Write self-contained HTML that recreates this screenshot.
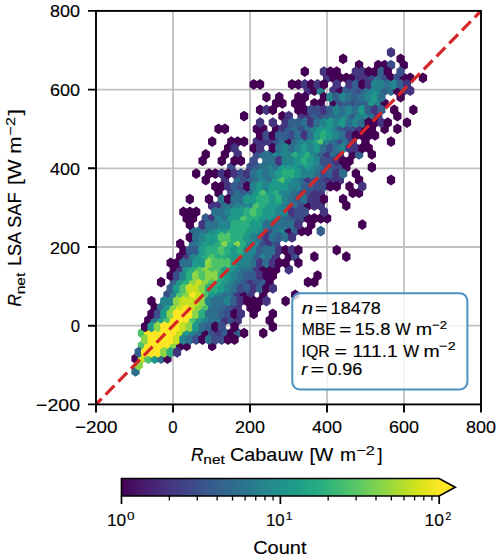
<!DOCTYPE html>
<html><head><meta charset="utf-8">
<style>
html,body{margin:0;padding:0;background:#fff;}
body{width:500px;height:560px;overflow:hidden;}
svg{display:block;}
text{font-family:"Liberation Sans",sans-serif;fill:#000;stroke:#000;stroke-width:0.15px;}
</style></head>
<body>
<svg width="500" height="560" viewBox="0 0 500 560">
<defs>
<linearGradient id="vir" x1="0" y1="0" x2="1" y2="0">
<stop offset="0.0000" stop-color="#440154"/>
<stop offset="0.0625" stop-color="#48186a"/>
<stop offset="0.1250" stop-color="#472d7b"/>
<stop offset="0.1875" stop-color="#424086"/>
<stop offset="0.2500" stop-color="#3b528b"/>
<stop offset="0.3125" stop-color="#33638d"/>
<stop offset="0.3750" stop-color="#2c728e"/>
<stop offset="0.4375" stop-color="#26828e"/>
<stop offset="0.5000" stop-color="#21918c"/>
<stop offset="0.5625" stop-color="#1fa088"/>
<stop offset="0.6250" stop-color="#28ae80"/>
<stop offset="0.6875" stop-color="#3fbc73"/>
<stop offset="0.7500" stop-color="#5ec962"/>
<stop offset="0.8125" stop-color="#84d44b"/>
<stop offset="0.8750" stop-color="#addc30"/>
<stop offset="0.9375" stop-color="#d8e219"/>
<stop offset="1.0000" stop-color="#fde725"/>
</linearGradient>
<clipPath id="ax"><rect x="96" y="10.9" width="385" height="393.5"/></clipPath>
</defs>

<!-- grid -->
<path d="M173 10.9V404.4M250 10.9V404.4M327 10.9V404.4M404 10.9V404.4M96 89.6H481M96 168.3H481M96 247H481M96 325.7H481" stroke="#c0c0c0" stroke-width="1.8" fill="none"/>

<!-- hexbin -->
<g clip-path="url(#ax)">
<g stroke-width="1.90" stroke-linejoin="miter">
<polygon points="394.19,50.27 394.19,54.53 391.00,56.65 387.81,54.53 387.81,50.27 391.00,48.15" fill="#45347f" stroke="#45347f"/>
<polygon points="362.26,63.03 362.26,67.29 359.07,69.41 355.87,67.29 355.87,63.03 359.07,60.91" fill="#440154" stroke="#440154"/>
<polygon points="381.42,63.03 381.42,67.29 378.23,69.41 375.03,67.29 375.03,63.03 378.23,60.91" fill="#440154" stroke="#440154"/>
<polygon points="387.81,63.03 387.81,67.29 384.61,69.41 381.42,67.29 381.42,63.03 384.61,60.91" fill="#440154" stroke="#440154"/>
<polygon points="394.19,63.03 394.19,67.29 391.00,69.41 387.81,67.29 387.81,63.03 391.00,60.91" fill="#3c4e8a" stroke="#3c4e8a"/>
<polygon points="406.97,63.03 406.97,67.29 403.77,69.41 400.58,67.29 400.58,63.03 403.77,60.91" fill="#440154" stroke="#440154"/>
<polygon points="330.32,75.79 330.32,80.05 327.13,82.17 323.94,80.05 323.94,75.79 327.13,73.67" fill="#45347f" stroke="#45347f"/>
<polygon points="336.71,75.79 336.71,80.05 333.52,82.17 330.32,80.05 330.32,75.79 333.52,73.67" fill="#440154" stroke="#440154"/>
<polygon points="343.10,75.79 343.10,80.05 339.90,82.17 336.71,80.05 336.71,75.79 339.90,73.67" fill="#440154" stroke="#440154"/>
<polygon points="349.49,75.79 349.49,80.05 346.29,82.17 343.10,80.05 343.10,75.79 346.29,73.67" fill="#440154" stroke="#440154"/>
<polygon points="355.87,75.79 355.87,80.05 352.68,82.17 349.49,80.05 349.49,75.79 352.68,73.67" fill="#440154" stroke="#440154"/>
<polygon points="362.26,75.79 362.26,80.05 359.07,82.17 355.87,80.05 355.87,75.79 359.07,73.67" fill="#45347f" stroke="#45347f"/>
<polygon points="368.65,75.79 368.65,80.05 365.45,82.17 362.26,80.05 362.26,75.79 365.45,73.67" fill="#45347f" stroke="#45347f"/>
<polygon points="375.03,75.79 375.03,80.05 371.84,82.17 368.65,80.05 368.65,75.79 371.84,73.67" fill="#3c4e8a" stroke="#3c4e8a"/>
<polygon points="381.42,75.79 381.42,80.05 378.23,82.17 375.03,80.05 375.03,75.79 378.23,73.67" fill="#2c708e" stroke="#2c708e"/>
<polygon points="387.81,75.79 387.81,80.05 384.61,82.17 381.42,80.05 381.42,75.79 384.61,73.67" fill="#3c4e8a" stroke="#3c4e8a"/>
<polygon points="394.19,75.79 394.19,80.05 391.00,82.17 387.81,80.05 387.81,75.79 391.00,73.67" fill="#440154" stroke="#440154"/>
<polygon points="400.58,75.79 400.58,80.05 397.39,82.17 394.19,80.05 394.19,75.79 397.39,73.67" fill="#3c4e8a" stroke="#3c4e8a"/>
<polygon points="406.97,75.79 406.97,80.05 403.77,82.17 400.58,80.05 400.58,75.79 403.77,73.67" fill="#440154" stroke="#440154"/>
<polygon points="413.36,75.79 413.36,80.05 410.16,82.17 406.97,80.05 406.97,75.79 410.16,73.67" fill="#440154" stroke="#440154"/>
<polygon points="426.13,75.79 426.13,80.05 422.94,82.17 419.74,80.05 419.74,75.79 422.94,73.67" fill="#440154" stroke="#440154"/>
<polygon points="311.16,88.55 311.16,92.81 307.97,94.93 304.78,92.81 304.78,88.55 307.97,86.43" fill="#45347f" stroke="#45347f"/>
<polygon points="317.55,88.55 317.55,92.81 314.36,94.93 311.16,92.81 311.16,88.55 314.36,86.43" fill="#440154" stroke="#440154"/>
<polygon points="323.94,88.55 323.94,92.81 320.74,94.93 317.55,92.81 317.55,88.55 320.74,86.43" fill="#24848d" stroke="#24848d"/>
<polygon points="336.71,88.55 336.71,92.81 333.52,94.93 330.32,92.81 330.32,88.55 333.52,86.43" fill="#45347f" stroke="#45347f"/>
<polygon points="343.10,88.55 343.10,92.81 339.90,94.93 336.71,92.81 336.71,88.55 339.90,86.43" fill="#440154" stroke="#440154"/>
<polygon points="349.49,88.55 349.49,92.81 346.29,94.93 343.10,92.81 343.10,88.55 346.29,86.43" fill="#345f8d" stroke="#345f8d"/>
<polygon points="355.87,88.55 355.87,92.81 352.68,94.93 349.49,92.81 349.49,88.55 352.68,86.43" fill="#345f8d" stroke="#345f8d"/>
<polygon points="362.26,88.55 362.26,92.81 359.07,94.93 355.87,92.81 355.87,88.55 359.07,86.43" fill="#3c4e8a" stroke="#3c4e8a"/>
<polygon points="368.65,88.55 368.65,92.81 365.45,94.93 362.26,92.81 362.26,88.55 365.45,86.43" fill="#2c708e" stroke="#2c708e"/>
<polygon points="375.03,88.55 375.03,92.81 371.84,94.93 368.65,92.81 368.65,88.55 371.84,86.43" fill="#24848d" stroke="#24848d"/>
<polygon points="381.42,88.55 381.42,92.81 378.23,94.93 375.03,92.81 375.03,88.55 378.23,86.43" fill="#24848d" stroke="#24848d"/>
<polygon points="387.81,88.55 387.81,92.81 384.61,94.93 381.42,92.81 381.42,88.55 384.61,86.43" fill="#345f8d" stroke="#345f8d"/>
<polygon points="394.19,88.55 394.19,92.81 391.00,94.93 387.81,92.81 387.81,88.55 391.00,86.43" fill="#2c708e" stroke="#2c708e"/>
<polygon points="400.58,88.55 400.58,92.81 397.39,94.93 394.19,92.81 394.19,88.55 397.39,86.43" fill="#440154" stroke="#440154"/>
<polygon points="406.97,88.55 406.97,92.81 403.77,94.93 400.58,92.81 400.58,88.55 403.77,86.43" fill="#45347f" stroke="#45347f"/>
<polygon points="413.36,88.55 413.36,92.81 410.16,94.93 406.97,92.81 406.97,88.55 410.16,86.43" fill="#45347f" stroke="#45347f"/>
<polygon points="279.23,101.31 279.23,105.57 276.03,107.69 272.84,105.57 272.84,101.31 276.03,99.19" fill="#440154" stroke="#440154"/>
<polygon points="285.62,101.31 285.62,105.57 282.42,107.69 279.23,105.57 279.23,101.31 282.42,99.19" fill="#440154" stroke="#440154"/>
<polygon points="298.39,101.31 298.39,105.57 295.20,107.69 292.00,105.57 292.00,101.31 295.20,99.19" fill="#440154" stroke="#440154"/>
<polygon points="304.78,101.31 304.78,105.57 301.58,107.69 298.39,105.57 298.39,101.31 301.58,99.19" fill="#440154" stroke="#440154"/>
<polygon points="317.55,101.31 317.55,105.57 314.36,107.69 311.16,105.57 311.16,101.31 314.36,99.19" fill="#440154" stroke="#440154"/>
<polygon points="323.94,101.31 323.94,105.57 320.74,107.69 317.55,105.57 317.55,101.31 320.74,99.19" fill="#440154" stroke="#440154"/>
<polygon points="336.71,101.31 336.71,105.57 333.52,107.69 330.32,105.57 330.32,101.31 333.52,99.19" fill="#440154" stroke="#440154"/>
<polygon points="343.10,101.31 343.10,105.57 339.90,107.69 336.71,105.57 336.71,101.31 339.90,99.19" fill="#3c4e8a" stroke="#3c4e8a"/>
<polygon points="349.49,101.31 349.49,105.57 346.29,107.69 343.10,105.57 343.10,101.31 346.29,99.19" fill="#345f8d" stroke="#345f8d"/>
<polygon points="355.87,101.31 355.87,105.57 352.68,107.69 349.49,105.57 349.49,101.31 352.68,99.19" fill="#3c4e8a" stroke="#3c4e8a"/>
<polygon points="362.26,101.31 362.26,105.57 359.07,107.69 355.87,105.57 355.87,101.31 359.07,99.19" fill="#345f8d" stroke="#345f8d"/>
<polygon points="368.65,101.31 368.65,105.57 365.45,107.69 362.26,105.57 362.26,101.31 365.45,99.19" fill="#345f8d" stroke="#345f8d"/>
<polygon points="375.03,101.31 375.03,105.57 371.84,107.69 368.65,105.57 368.65,101.31 371.84,99.19" fill="#1e998a" stroke="#1e998a"/>
<polygon points="381.42,101.31 381.42,105.57 378.23,107.69 375.03,105.57 375.03,101.31 378.23,99.19" fill="#24848d" stroke="#24848d"/>
<polygon points="387.81,101.31 387.81,105.57 384.61,107.69 381.42,105.57 381.42,101.31 384.61,99.19" fill="#440154" stroke="#440154"/>
<polygon points="247.29,114.07 247.29,118.33 244.10,120.45 240.91,118.33 240.91,114.07 244.10,111.95" fill="#440154" stroke="#440154"/>
<polygon points="285.62,114.07 285.62,118.33 282.42,120.45 279.23,118.33 279.23,114.07 282.42,111.95" fill="#440154" stroke="#440154"/>
<polygon points="292.00,114.07 292.00,118.33 288.81,120.45 285.62,118.33 285.62,114.07 288.81,111.95" fill="#45347f" stroke="#45347f"/>
<polygon points="304.78,114.07 304.78,118.33 301.58,120.45 298.39,118.33 298.39,114.07 301.58,111.95" fill="#45347f" stroke="#45347f"/>
<polygon points="311.16,114.07 311.16,118.33 307.97,120.45 304.78,118.33 304.78,114.07 307.97,111.95" fill="#45347f" stroke="#45347f"/>
<polygon points="317.55,114.07 317.55,118.33 314.36,120.45 311.16,118.33 311.16,114.07 314.36,111.95" fill="#345f8d" stroke="#345f8d"/>
<polygon points="323.94,114.07 323.94,118.33 320.74,120.45 317.55,118.33 317.55,114.07 320.74,111.95" fill="#3c4e8a" stroke="#3c4e8a"/>
<polygon points="330.32,114.07 330.32,118.33 327.13,120.45 323.94,118.33 323.94,114.07 327.13,111.95" fill="#345f8d" stroke="#345f8d"/>
<polygon points="336.71,114.07 336.71,118.33 333.52,120.45 330.32,118.33 330.32,114.07 333.52,111.95" fill="#2c708e" stroke="#2c708e"/>
<polygon points="343.10,114.07 343.10,118.33 339.90,120.45 336.71,118.33 336.71,114.07 339.90,111.95" fill="#2c708e" stroke="#2c708e"/>
<polygon points="349.49,114.07 349.49,118.33 346.29,120.45 343.10,118.33 343.10,114.07 346.29,111.95" fill="#24848d" stroke="#24848d"/>
<polygon points="355.87,114.07 355.87,118.33 352.68,120.45 349.49,118.33 349.49,114.07 352.68,111.95" fill="#345f8d" stroke="#345f8d"/>
<polygon points="362.26,114.07 362.26,118.33 359.07,120.45 355.87,118.33 355.87,114.07 359.07,111.95" fill="#24848d" stroke="#24848d"/>
<polygon points="368.65,114.07 368.65,118.33 365.45,120.45 362.26,118.33 362.26,114.07 365.45,111.95" fill="#24848d" stroke="#24848d"/>
<polygon points="375.03,114.07 375.03,118.33 371.84,120.45 368.65,118.33 368.65,114.07 371.84,111.95" fill="#2c708e" stroke="#2c708e"/>
<polygon points="381.42,114.07 381.42,118.33 378.23,120.45 375.03,118.33 375.03,114.07 378.23,111.95" fill="#45347f" stroke="#45347f"/>
<polygon points="400.58,114.07 400.58,118.33 397.39,120.45 394.19,118.33 394.19,114.07 397.39,111.95" fill="#440154" stroke="#440154"/>
<polygon points="221.75,126.83 221.75,131.09 218.55,133.21 215.36,131.09 215.36,126.83 218.55,124.71" fill="#440154" stroke="#440154"/>
<polygon points="228.13,126.83 228.13,131.09 224.94,133.21 221.75,131.09 221.75,126.83 224.94,124.71" fill="#440154" stroke="#440154"/>
<polygon points="260.07,126.83 260.07,131.09 256.87,133.21 253.68,131.09 253.68,126.83 256.87,124.71" fill="#440154" stroke="#440154"/>
<polygon points="266.45,126.83 266.45,131.09 263.26,133.21 260.07,131.09 260.07,126.83 263.26,124.71" fill="#440154" stroke="#440154"/>
<polygon points="279.23,126.83 279.23,131.09 276.03,133.21 272.84,131.09 272.84,126.83 276.03,124.71" fill="#440154" stroke="#440154"/>
<polygon points="285.62,126.83 285.62,131.09 282.42,133.21 279.23,131.09 279.23,126.83 282.42,124.71" fill="#45347f" stroke="#45347f"/>
<polygon points="292.00,126.83 292.00,131.09 288.81,133.21 285.62,131.09 285.62,126.83 288.81,124.71" fill="#345f8d" stroke="#345f8d"/>
<polygon points="298.39,126.83 298.39,131.09 295.20,133.21 292.00,131.09 292.00,126.83 295.20,124.71" fill="#2c708e" stroke="#2c708e"/>
<polygon points="304.78,126.83 304.78,131.09 301.58,133.21 298.39,131.09 298.39,126.83 301.58,124.71" fill="#3c4e8a" stroke="#3c4e8a"/>
<polygon points="311.16,126.83 311.16,131.09 307.97,133.21 304.78,131.09 304.78,126.83 307.97,124.71" fill="#2c708e" stroke="#2c708e"/>
<polygon points="317.55,126.83 317.55,131.09 314.36,133.21 311.16,131.09 311.16,126.83 314.36,124.71" fill="#24848d" stroke="#24848d"/>
<polygon points="323.94,126.83 323.94,131.09 320.74,133.21 317.55,131.09 317.55,126.83 320.74,124.71" fill="#1e998a" stroke="#1e998a"/>
<polygon points="330.32,126.83 330.32,131.09 327.13,133.21 323.94,131.09 323.94,126.83 327.13,124.71" fill="#1e998a" stroke="#1e998a"/>
<polygon points="336.71,126.83 336.71,131.09 333.52,133.21 330.32,131.09 330.32,126.83 333.52,124.71" fill="#24848d" stroke="#24848d"/>
<polygon points="343.10,126.83 343.10,131.09 339.90,133.21 336.71,131.09 336.71,126.83 339.90,124.71" fill="#345f8d" stroke="#345f8d"/>
<polygon points="349.49,126.83 349.49,131.09 346.29,133.21 343.10,131.09 343.10,126.83 346.29,124.71" fill="#3c4e8a" stroke="#3c4e8a"/>
<polygon points="355.87,126.83 355.87,131.09 352.68,133.21 349.49,131.09 349.49,126.83 352.68,124.71" fill="#3c4e8a" stroke="#3c4e8a"/>
<polygon points="362.26,126.83 362.26,131.09 359.07,133.21 355.87,131.09 355.87,126.83 359.07,124.71" fill="#45347f" stroke="#45347f"/>
<polygon points="368.65,126.83 368.65,131.09 365.45,133.21 362.26,131.09 362.26,126.83 365.45,124.71" fill="#440154" stroke="#440154"/>
<polygon points="375.03,126.83 375.03,131.09 371.84,133.21 368.65,131.09 368.65,126.83 371.84,124.71" fill="#440154" stroke="#440154"/>
<polygon points="387.81,126.83 387.81,131.09 384.61,133.21 381.42,131.09 381.42,126.83 384.61,124.71" fill="#440154" stroke="#440154"/>
<polygon points="400.58,126.83 400.58,131.09 397.39,133.21 394.19,131.09 394.19,126.83 397.39,124.71" fill="#440154" stroke="#440154"/>
<polygon points="215.36,139.59 215.36,143.85 212.16,145.97 208.97,143.85 208.97,139.59 212.16,137.47" fill="#440154" stroke="#440154"/>
<polygon points="234.52,139.59 234.52,143.85 231.33,145.97 228.13,143.85 228.13,139.59 231.33,137.47" fill="#440154" stroke="#440154"/>
<polygon points="240.91,139.59 240.91,143.85 237.71,145.97 234.52,143.85 234.52,139.59 237.71,137.47" fill="#440154" stroke="#440154"/>
<polygon points="247.29,139.59 247.29,143.85 244.10,145.97 240.91,143.85 240.91,139.59 244.10,137.47" fill="#440154" stroke="#440154"/>
<polygon points="260.07,139.59 260.07,143.85 256.87,145.97 253.68,143.85 253.68,139.59 256.87,137.47" fill="#45347f" stroke="#45347f"/>
<polygon points="266.45,139.59 266.45,143.85 263.26,145.97 260.07,143.85 260.07,139.59 263.26,137.47" fill="#45347f" stroke="#45347f"/>
<polygon points="272.84,139.59 272.84,143.85 269.65,145.97 266.45,143.85 266.45,139.59 269.65,137.47" fill="#45347f" stroke="#45347f"/>
<polygon points="279.23,139.59 279.23,143.85 276.03,145.97 272.84,143.85 272.84,139.59 276.03,137.47" fill="#3c4e8a" stroke="#3c4e8a"/>
<polygon points="285.62,139.59 285.62,143.85 282.42,145.97 279.23,143.85 279.23,139.59 282.42,137.47" fill="#2c708e" stroke="#2c708e"/>
<polygon points="292.00,139.59 292.00,143.85 288.81,145.97 285.62,143.85 285.62,139.59 288.81,137.47" fill="#440154" stroke="#440154"/>
<polygon points="298.39,139.59 298.39,143.85 295.20,145.97 292.00,143.85 292.00,139.59 295.20,137.47" fill="#2c708e" stroke="#2c708e"/>
<polygon points="304.78,139.59 304.78,143.85 301.58,145.97 298.39,143.85 298.39,139.59 301.58,137.47" fill="#24848d" stroke="#24848d"/>
<polygon points="311.16,139.59 311.16,143.85 307.97,145.97 304.78,143.85 304.78,139.59 307.97,137.47" fill="#24848d" stroke="#24848d"/>
<polygon points="317.55,139.59 317.55,143.85 314.36,145.97 311.16,143.85 311.16,139.59 314.36,137.47" fill="#1e998a" stroke="#1e998a"/>
<polygon points="323.94,139.59 323.94,143.85 320.74,145.97 317.55,143.85 317.55,139.59 320.74,137.47" fill="#4fc369" stroke="#4fc369"/>
<polygon points="330.32,139.59 330.32,143.85 327.13,145.97 323.94,143.85 323.94,139.59 327.13,137.47" fill="#24848d" stroke="#24848d"/>
<polygon points="336.71,139.59 336.71,143.85 333.52,145.97 330.32,143.85 330.32,139.59 333.52,137.47" fill="#2c708e" stroke="#2c708e"/>
<polygon points="343.10,139.59 343.10,143.85 339.90,145.97 336.71,143.85 336.71,139.59 339.90,137.47" fill="#3c4e8a" stroke="#3c4e8a"/>
<polygon points="349.49,139.59 349.49,143.85 346.29,145.97 343.10,143.85 343.10,139.59 346.29,137.47" fill="#2c708e" stroke="#2c708e"/>
<polygon points="355.87,139.59 355.87,143.85 352.68,145.97 349.49,143.85 349.49,139.59 352.68,137.47" fill="#45347f" stroke="#45347f"/>
<polygon points="368.65,139.59 368.65,143.85 365.45,145.97 362.26,143.85 362.26,139.59 365.45,137.47" fill="#440154" stroke="#440154"/>
<polygon points="394.19,139.59 394.19,143.85 391.00,145.97 387.81,143.85 387.81,139.59 391.00,137.47" fill="#440154" stroke="#440154"/>
<polygon points="208.97,152.35 208.97,156.61 205.78,158.73 202.58,156.61 202.58,152.35 205.78,150.23" fill="#440154" stroke="#440154"/>
<polygon points="228.13,152.35 228.13,156.61 224.94,158.73 221.75,156.61 221.75,152.35 224.94,150.23" fill="#440154" stroke="#440154"/>
<polygon points="240.91,152.35 240.91,156.61 237.71,158.73 234.52,156.61 234.52,152.35 237.71,150.23" fill="#45347f" stroke="#45347f"/>
<polygon points="260.07,152.35 260.07,156.61 256.87,158.73 253.68,156.61 253.68,152.35 256.87,150.23" fill="#3c4e8a" stroke="#3c4e8a"/>
<polygon points="266.45,152.35 266.45,156.61 263.26,158.73 260.07,156.61 260.07,152.35 263.26,150.23" fill="#2c708e" stroke="#2c708e"/>
<polygon points="272.84,152.35 272.84,156.61 269.65,158.73 266.45,156.61 266.45,152.35 269.65,150.23" fill="#2c708e" stroke="#2c708e"/>
<polygon points="279.23,152.35 279.23,156.61 276.03,158.73 272.84,156.61 272.84,152.35 276.03,150.23" fill="#24848d" stroke="#24848d"/>
<polygon points="285.62,152.35 285.62,156.61 282.42,158.73 279.23,156.61 279.23,152.35 282.42,150.23" fill="#24848d" stroke="#24848d"/>
<polygon points="292.00,152.35 292.00,156.61 288.81,158.73 285.62,156.61 285.62,152.35 288.81,150.23" fill="#24848d" stroke="#24848d"/>
<polygon points="298.39,152.35 298.39,156.61 295.20,158.73 292.00,156.61 292.00,152.35 295.20,150.23" fill="#28ae7f" stroke="#28ae7f"/>
<polygon points="304.78,152.35 304.78,156.61 301.58,158.73 298.39,156.61 298.39,152.35 301.58,150.23" fill="#1e998a" stroke="#1e998a"/>
<polygon points="311.16,152.35 311.16,156.61 307.97,158.73 304.78,156.61 304.78,152.35 307.97,150.23" fill="#28ae7f" stroke="#28ae7f"/>
<polygon points="317.55,152.35 317.55,156.61 314.36,158.73 311.16,156.61 311.16,152.35 314.36,150.23" fill="#24848d" stroke="#24848d"/>
<polygon points="323.94,152.35 323.94,156.61 320.74,158.73 317.55,156.61 317.55,152.35 320.74,150.23" fill="#345f8d" stroke="#345f8d"/>
<polygon points="330.32,152.35 330.32,156.61 327.13,158.73 323.94,156.61 323.94,152.35 327.13,150.23" fill="#45347f" stroke="#45347f"/>
<polygon points="336.71,152.35 336.71,156.61 333.52,158.73 330.32,156.61 330.32,152.35 333.52,150.23" fill="#2c708e" stroke="#2c708e"/>
<polygon points="343.10,152.35 343.10,156.61 339.90,158.73 336.71,156.61 336.71,152.35 339.90,150.23" fill="#3c4e8a" stroke="#3c4e8a"/>
<polygon points="355.87,152.35 355.87,156.61 352.68,158.73 349.49,156.61 349.49,152.35 352.68,150.23" fill="#440154" stroke="#440154"/>
<polygon points="362.26,152.35 362.26,156.61 359.07,158.73 355.87,156.61 355.87,152.35 359.07,150.23" fill="#345f8d" stroke="#345f8d"/>
<polygon points="375.03,152.35 375.03,156.61 371.84,158.73 368.65,156.61 368.65,152.35 371.84,150.23" fill="#440154" stroke="#440154"/>
<polygon points="234.52,165.11 234.52,169.37 231.33,171.49 228.13,169.37 228.13,165.11 231.33,162.99" fill="#3c4e8a" stroke="#3c4e8a"/>
<polygon points="253.68,165.11 253.68,169.37 250.49,171.49 247.29,169.37 247.29,165.11 250.49,162.99" fill="#3c4e8a" stroke="#3c4e8a"/>
<polygon points="260.07,165.11 260.07,169.37 256.87,171.49 253.68,169.37 253.68,165.11 256.87,162.99" fill="#345f8d" stroke="#345f8d"/>
<polygon points="266.45,165.11 266.45,169.37 263.26,171.49 260.07,169.37 260.07,165.11 263.26,162.99" fill="#2c708e" stroke="#2c708e"/>
<polygon points="272.84,165.11 272.84,169.37 269.65,171.49 266.45,169.37 266.45,165.11 269.65,162.99" fill="#24848d" stroke="#24848d"/>
<polygon points="279.23,165.11 279.23,169.37 276.03,171.49 272.84,169.37 272.84,165.11 276.03,162.99" fill="#2c708e" stroke="#2c708e"/>
<polygon points="285.62,165.11 285.62,169.37 282.42,171.49 279.23,169.37 279.23,165.11 282.42,162.99" fill="#1e998a" stroke="#1e998a"/>
<polygon points="292.00,165.11 292.00,169.37 288.81,171.49 285.62,169.37 285.62,165.11 288.81,162.99" fill="#1e998a" stroke="#1e998a"/>
<polygon points="298.39,165.11 298.39,169.37 295.20,171.49 292.00,169.37 292.00,165.11 295.20,162.99" fill="#1e998a" stroke="#1e998a"/>
<polygon points="304.78,165.11 304.78,169.37 301.58,171.49 298.39,169.37 298.39,165.11 301.58,162.99" fill="#24848d" stroke="#24848d"/>
<polygon points="311.16,165.11 311.16,169.37 307.97,171.49 304.78,169.37 304.78,165.11 307.97,162.99" fill="#1e998a" stroke="#1e998a"/>
<polygon points="317.55,165.11 317.55,169.37 314.36,171.49 311.16,169.37 311.16,165.11 314.36,162.99" fill="#24848d" stroke="#24848d"/>
<polygon points="323.94,165.11 323.94,169.37 320.74,171.49 317.55,169.37 317.55,165.11 320.74,162.99" fill="#2c708e" stroke="#2c708e"/>
<polygon points="330.32,165.11 330.32,169.37 327.13,171.49 323.94,169.37 323.94,165.11 327.13,162.99" fill="#3c4e8a" stroke="#3c4e8a"/>
<polygon points="336.71,165.11 336.71,169.37 333.52,171.49 330.32,169.37 330.32,165.11 333.52,162.99" fill="#3c4e8a" stroke="#3c4e8a"/>
<polygon points="343.10,165.11 343.10,169.37 339.90,171.49 336.71,169.37 336.71,165.11 339.90,162.99" fill="#3c4e8a" stroke="#3c4e8a"/>
<polygon points="349.49,165.11 349.49,169.37 346.29,171.49 343.10,169.37 343.10,165.11 346.29,162.99" fill="#440154" stroke="#440154"/>
<polygon points="375.03,165.11 375.03,169.37 371.84,171.49 368.65,169.37 368.65,165.11 371.84,162.99" fill="#440154" stroke="#440154"/>
<polygon points="208.97,177.87 208.97,182.13 205.78,184.25 202.58,182.13 202.58,177.87 205.78,175.75" fill="#440154" stroke="#440154"/>
<polygon points="228.13,177.87 228.13,182.13 224.94,184.25 221.75,182.13 221.75,177.87 224.94,175.75" fill="#45347f" stroke="#45347f"/>
<polygon points="240.91,177.87 240.91,182.13 237.71,184.25 234.52,182.13 234.52,177.87 237.71,175.75" fill="#2c708e" stroke="#2c708e"/>
<polygon points="247.29,177.87 247.29,182.13 244.10,184.25 240.91,182.13 240.91,177.87 244.10,175.75" fill="#3c4e8a" stroke="#3c4e8a"/>
<polygon points="253.68,177.87 253.68,182.13 250.49,184.25 247.29,182.13 247.29,177.87 250.49,175.75" fill="#345f8d" stroke="#345f8d"/>
<polygon points="260.07,177.87 260.07,182.13 256.87,184.25 253.68,182.13 253.68,177.87 256.87,175.75" fill="#2c708e" stroke="#2c708e"/>
<polygon points="266.45,177.87 266.45,182.13 263.26,184.25 260.07,182.13 260.07,177.87 263.26,175.75" fill="#24848d" stroke="#24848d"/>
<polygon points="272.84,177.87 272.84,182.13 269.65,184.25 266.45,182.13 266.45,177.87 269.65,175.75" fill="#2c708e" stroke="#2c708e"/>
<polygon points="279.23,177.87 279.23,182.13 276.03,184.25 272.84,182.13 272.84,177.87 276.03,175.75" fill="#1e998a" stroke="#1e998a"/>
<polygon points="285.62,177.87 285.62,182.13 282.42,184.25 279.23,182.13 279.23,177.87 282.42,175.75" fill="#4fc369" stroke="#4fc369"/>
<polygon points="292.00,177.87 292.00,182.13 288.81,184.25 285.62,182.13 285.62,177.87 288.81,175.75" fill="#1e998a" stroke="#1e998a"/>
<polygon points="298.39,177.87 298.39,182.13 295.20,184.25 292.00,182.13 292.00,177.87 295.20,175.75" fill="#24848d" stroke="#24848d"/>
<polygon points="304.78,177.87 304.78,182.13 301.58,184.25 298.39,182.13 298.39,177.87 301.58,175.75" fill="#2c708e" stroke="#2c708e"/>
<polygon points="311.16,177.87 311.16,182.13 307.97,184.25 304.78,182.13 304.78,177.87 307.97,175.75" fill="#45347f" stroke="#45347f"/>
<polygon points="317.55,177.87 317.55,182.13 314.36,184.25 311.16,182.13 311.16,177.87 314.36,175.75" fill="#3c4e8a" stroke="#3c4e8a"/>
<polygon points="323.94,177.87 323.94,182.13 320.74,184.25 317.55,182.13 317.55,177.87 320.74,175.75" fill="#3c4e8a" stroke="#3c4e8a"/>
<polygon points="330.32,177.87 330.32,182.13 327.13,184.25 323.94,182.13 323.94,177.87 327.13,175.75" fill="#45347f" stroke="#45347f"/>
<polygon points="336.71,177.87 336.71,182.13 333.52,184.25 330.32,182.13 330.32,177.87 333.52,175.75" fill="#45347f" stroke="#45347f"/>
<polygon points="343.10,177.87 343.10,182.13 339.90,184.25 336.71,182.13 336.71,177.87 339.90,175.75" fill="#45347f" stroke="#45347f"/>
<polygon points="362.26,177.87 362.26,182.13 359.07,184.25 355.87,182.13 355.87,177.87 359.07,175.75" fill="#440154" stroke="#440154"/>
<polygon points="394.19,177.87 394.19,182.13 391.00,184.25 387.81,182.13 387.81,177.87 391.00,175.75" fill="#440154" stroke="#440154"/>
<polygon points="221.75,190.63 221.75,194.89 218.55,197.01 215.36,194.89 215.36,190.63 218.55,188.51" fill="#440154" stroke="#440154"/>
<polygon points="234.52,190.63 234.52,194.89 231.33,197.01 228.13,194.89 228.13,190.63 231.33,188.51" fill="#3c4e8a" stroke="#3c4e8a"/>
<polygon points="240.91,190.63 240.91,194.89 237.71,197.01 234.52,194.89 234.52,190.63 237.71,188.51" fill="#2c708e" stroke="#2c708e"/>
<polygon points="247.29,190.63 247.29,194.89 244.10,197.01 240.91,194.89 240.91,190.63 244.10,188.51" fill="#345f8d" stroke="#345f8d"/>
<polygon points="253.68,190.63 253.68,194.89 250.49,197.01 247.29,194.89 247.29,190.63 250.49,188.51" fill="#2c708e" stroke="#2c708e"/>
<polygon points="260.07,190.63 260.07,194.89 256.87,197.01 253.68,194.89 253.68,190.63 256.87,188.51" fill="#1e998a" stroke="#1e998a"/>
<polygon points="266.45,190.63 266.45,194.89 263.26,197.01 260.07,194.89 260.07,190.63 263.26,188.51" fill="#4fc369" stroke="#4fc369"/>
<polygon points="272.84,190.63 272.84,194.89 269.65,197.01 266.45,194.89 266.45,190.63 269.65,188.51" fill="#1e998a" stroke="#1e998a"/>
<polygon points="279.23,190.63 279.23,194.89 276.03,197.01 272.84,194.89 272.84,190.63 276.03,188.51" fill="#28ae7f" stroke="#28ae7f"/>
<polygon points="285.62,190.63 285.62,194.89 282.42,197.01 279.23,194.89 279.23,190.63 282.42,188.51" fill="#24848d" stroke="#24848d"/>
<polygon points="292.00,190.63 292.00,194.89 288.81,197.01 285.62,194.89 285.62,190.63 288.81,188.51" fill="#24848d" stroke="#24848d"/>
<polygon points="298.39,190.63 298.39,194.89 295.20,197.01 292.00,194.89 292.00,190.63 295.20,188.51" fill="#2c708e" stroke="#2c708e"/>
<polygon points="304.78,190.63 304.78,194.89 301.58,197.01 298.39,194.89 298.39,190.63 301.58,188.51" fill="#3c4e8a" stroke="#3c4e8a"/>
<polygon points="311.16,190.63 311.16,194.89 307.97,197.01 304.78,194.89 304.78,190.63 307.97,188.51" fill="#3c4e8a" stroke="#3c4e8a"/>
<polygon points="317.55,190.63 317.55,194.89 314.36,197.01 311.16,194.89 311.16,190.63 314.36,188.51" fill="#45347f" stroke="#45347f"/>
<polygon points="323.94,190.63 323.94,194.89 320.74,197.01 317.55,194.89 317.55,190.63 320.74,188.51" fill="#45347f" stroke="#45347f"/>
<polygon points="355.87,190.63 355.87,194.89 352.68,197.01 349.49,194.89 349.49,190.63 352.68,188.51" fill="#440154" stroke="#440154"/>
<polygon points="362.26,190.63 362.26,194.89 359.07,197.01 355.87,194.89 355.87,190.63 359.07,188.51" fill="#440154" stroke="#440154"/>
<polygon points="215.36,203.39 215.36,207.65 212.16,209.77 208.97,207.65 208.97,203.39 212.16,201.27" fill="#45347f" stroke="#45347f"/>
<polygon points="221.75,203.39 221.75,207.65 218.55,209.77 215.36,207.65 215.36,203.39 218.55,201.27" fill="#45347f" stroke="#45347f"/>
<polygon points="228.13,203.39 228.13,207.65 224.94,209.77 221.75,207.65 221.75,203.39 224.94,201.27" fill="#2c708e" stroke="#2c708e"/>
<polygon points="234.52,203.39 234.52,207.65 231.33,209.77 228.13,207.65 228.13,203.39 231.33,201.27" fill="#2c708e" stroke="#2c708e"/>
<polygon points="240.91,203.39 240.91,207.65 237.71,209.77 234.52,207.65 234.52,203.39 237.71,201.27" fill="#24848d" stroke="#24848d"/>
<polygon points="247.29,203.39 247.29,207.65 244.10,209.77 240.91,207.65 240.91,203.39 244.10,201.27" fill="#24848d" stroke="#24848d"/>
<polygon points="253.68,203.39 253.68,207.65 250.49,209.77 247.29,207.65 247.29,203.39 250.49,201.27" fill="#24848d" stroke="#24848d"/>
<polygon points="260.07,203.39 260.07,207.65 256.87,209.77 253.68,207.65 253.68,203.39 256.87,201.27" fill="#4fc369" stroke="#4fc369"/>
<polygon points="266.45,203.39 266.45,207.65 263.26,209.77 260.07,207.65 260.07,203.39 263.26,201.27" fill="#28ae7f" stroke="#28ae7f"/>
<polygon points="272.84,203.39 272.84,207.65 269.65,209.77 266.45,207.65 266.45,203.39 269.65,201.27" fill="#1e998a" stroke="#1e998a"/>
<polygon points="279.23,203.39 279.23,207.65 276.03,209.77 272.84,207.65 272.84,203.39 276.03,201.27" fill="#1e998a" stroke="#1e998a"/>
<polygon points="285.62,203.39 285.62,207.65 282.42,209.77 279.23,207.65 279.23,203.39 282.42,201.27" fill="#24848d" stroke="#24848d"/>
<polygon points="292.00,203.39 292.00,207.65 288.81,209.77 285.62,207.65 285.62,203.39 288.81,201.27" fill="#2c708e" stroke="#2c708e"/>
<polygon points="298.39,203.39 298.39,207.65 295.20,209.77 292.00,207.65 292.00,203.39 295.20,201.27" fill="#2c708e" stroke="#2c708e"/>
<polygon points="304.78,203.39 304.78,207.65 301.58,209.77 298.39,207.65 298.39,203.39 301.58,201.27" fill="#3c4e8a" stroke="#3c4e8a"/>
<polygon points="311.16,203.39 311.16,207.65 307.97,209.77 304.78,207.65 304.78,203.39 307.97,201.27" fill="#440154" stroke="#440154"/>
<polygon points="317.55,203.39 317.55,207.65 314.36,209.77 311.16,207.65 311.16,203.39 314.36,201.27" fill="#45347f" stroke="#45347f"/>
<polygon points="323.94,203.39 323.94,207.65 320.74,209.77 317.55,207.65 317.55,203.39 320.74,201.27" fill="#45347f" stroke="#45347f"/>
<polygon points="349.49,203.39 349.49,207.65 346.29,209.77 343.10,207.65 343.10,203.39 346.29,201.27" fill="#440154" stroke="#440154"/>
<polygon points="189.81,216.15 189.81,220.41 186.62,222.53 183.42,220.41 183.42,216.15 186.62,214.03" fill="#440154" stroke="#440154"/>
<polygon points="196.20,216.15 196.20,220.41 193.00,222.53 189.81,220.41 189.81,216.15 193.00,214.03" fill="#440154" stroke="#440154"/>
<polygon points="208.97,216.15 208.97,220.41 205.78,222.53 202.58,220.41 202.58,216.15 205.78,214.03" fill="#345f8d" stroke="#345f8d"/>
<polygon points="215.36,216.15 215.36,220.41 212.16,222.53 208.97,220.41 208.97,216.15 212.16,214.03" fill="#45347f" stroke="#45347f"/>
<polygon points="221.75,216.15 221.75,220.41 218.55,222.53 215.36,220.41 215.36,216.15 218.55,214.03" fill="#24848d" stroke="#24848d"/>
<polygon points="228.13,216.15 228.13,220.41 224.94,222.53 221.75,220.41 221.75,216.15 224.94,214.03" fill="#2c708e" stroke="#2c708e"/>
<polygon points="234.52,216.15 234.52,220.41 231.33,222.53 228.13,220.41 228.13,216.15 231.33,214.03" fill="#1e998a" stroke="#1e998a"/>
<polygon points="240.91,216.15 240.91,220.41 237.71,222.53 234.52,220.41 234.52,216.15 237.71,214.03" fill="#1e998a" stroke="#1e998a"/>
<polygon points="247.29,216.15 247.29,220.41 244.10,222.53 240.91,220.41 240.91,216.15 244.10,214.03" fill="#4fc369" stroke="#4fc369"/>
<polygon points="253.68,216.15 253.68,220.41 250.49,222.53 247.29,220.41 247.29,216.15 250.49,214.03" fill="#28ae7f" stroke="#28ae7f"/>
<polygon points="260.07,216.15 260.07,220.41 256.87,222.53 253.68,220.41 253.68,216.15 256.87,214.03" fill="#28ae7f" stroke="#28ae7f"/>
<polygon points="266.45,216.15 266.45,220.41 263.26,222.53 260.07,220.41 260.07,216.15 263.26,214.03" fill="#1e998a" stroke="#1e998a"/>
<polygon points="272.84,216.15 272.84,220.41 269.65,222.53 266.45,220.41 266.45,216.15 269.65,214.03" fill="#1e998a" stroke="#1e998a"/>
<polygon points="279.23,216.15 279.23,220.41 276.03,222.53 272.84,220.41 272.84,216.15 276.03,214.03" fill="#24848d" stroke="#24848d"/>
<polygon points="285.62,216.15 285.62,220.41 282.42,222.53 279.23,220.41 279.23,216.15 282.42,214.03" fill="#2c708e" stroke="#2c708e"/>
<polygon points="292.00,216.15 292.00,220.41 288.81,222.53 285.62,220.41 285.62,216.15 288.81,214.03" fill="#345f8d" stroke="#345f8d"/>
<polygon points="298.39,216.15 298.39,220.41 295.20,222.53 292.00,220.41 292.00,216.15 295.20,214.03" fill="#3c4e8a" stroke="#3c4e8a"/>
<polygon points="304.78,216.15 304.78,220.41 301.58,222.53 298.39,220.41 298.39,216.15 301.58,214.03" fill="#3c4e8a" stroke="#3c4e8a"/>
<polygon points="311.16,216.15 311.16,220.41 307.97,222.53 304.78,220.41 304.78,216.15 307.97,214.03" fill="#440154" stroke="#440154"/>
<polygon points="317.55,216.15 317.55,220.41 314.36,222.53 311.16,220.41 311.16,216.15 314.36,214.03" fill="#440154" stroke="#440154"/>
<polygon points="323.94,216.15 323.94,220.41 320.74,222.53 317.55,220.41 317.55,216.15 320.74,214.03" fill="#440154" stroke="#440154"/>
<polygon points="330.32,216.15 330.32,220.41 327.13,222.53 323.94,220.41 323.94,216.15 327.13,214.03" fill="#440154" stroke="#440154"/>
<polygon points="196.20,228.91 196.20,233.17 193.00,235.29 189.81,233.17 189.81,228.91 193.00,226.79" fill="#2c708e" stroke="#2c708e"/>
<polygon points="202.58,228.91 202.58,233.17 199.39,235.29 196.20,233.17 196.20,228.91 199.39,226.79" fill="#2c708e" stroke="#2c708e"/>
<polygon points="208.97,228.91 208.97,233.17 205.78,235.29 202.58,233.17 202.58,228.91 205.78,226.79" fill="#2c708e" stroke="#2c708e"/>
<polygon points="215.36,228.91 215.36,233.17 212.16,235.29 208.97,233.17 208.97,228.91 212.16,226.79" fill="#24848d" stroke="#24848d"/>
<polygon points="221.75,228.91 221.75,233.17 218.55,235.29 215.36,233.17 215.36,228.91 218.55,226.79" fill="#1e998a" stroke="#1e998a"/>
<polygon points="228.13,228.91 228.13,233.17 224.94,235.29 221.75,233.17 221.75,228.91 224.94,226.79" fill="#1e998a" stroke="#1e998a"/>
<polygon points="234.52,228.91 234.52,233.17 231.33,235.29 228.13,233.17 228.13,228.91 231.33,226.79" fill="#28ae7f" stroke="#28ae7f"/>
<polygon points="240.91,228.91 240.91,233.17 237.71,235.29 234.52,233.17 234.52,228.91 237.71,226.79" fill="#28ae7f" stroke="#28ae7f"/>
<polygon points="247.29,228.91 247.29,233.17 244.10,235.29 240.91,233.17 240.91,228.91 244.10,226.79" fill="#28ae7f" stroke="#28ae7f"/>
<polygon points="253.68,228.91 253.68,233.17 250.49,235.29 247.29,233.17 247.29,228.91 250.49,226.79" fill="#1e998a" stroke="#1e998a"/>
<polygon points="260.07,228.91 260.07,233.17 256.87,235.29 253.68,233.17 253.68,228.91 256.87,226.79" fill="#1e998a" stroke="#1e998a"/>
<polygon points="266.45,228.91 266.45,233.17 263.26,235.29 260.07,233.17 260.07,228.91 263.26,226.79" fill="#24848d" stroke="#24848d"/>
<polygon points="272.84,228.91 272.84,233.17 269.65,235.29 266.45,233.17 266.45,228.91 269.65,226.79" fill="#3c4e8a" stroke="#3c4e8a"/>
<polygon points="279.23,228.91 279.23,233.17 276.03,235.29 272.84,233.17 272.84,228.91 276.03,226.79" fill="#2c708e" stroke="#2c708e"/>
<polygon points="285.62,228.91 285.62,233.17 282.42,235.29 279.23,233.17 279.23,228.91 282.42,226.79" fill="#24848d" stroke="#24848d"/>
<polygon points="292.00,228.91 292.00,233.17 288.81,235.29 285.62,233.17 285.62,228.91 288.81,226.79" fill="#440154" stroke="#440154"/>
<polygon points="298.39,228.91 298.39,233.17 295.20,235.29 292.00,233.17 292.00,228.91 295.20,226.79" fill="#345f8d" stroke="#345f8d"/>
<polygon points="304.78,228.91 304.78,233.17 301.58,235.29 298.39,233.17 298.39,228.91 301.58,226.79" fill="#440154" stroke="#440154"/>
<polygon points="311.16,228.91 311.16,233.17 307.97,235.29 304.78,233.17 304.78,228.91 307.97,226.79" fill="#440154" stroke="#440154"/>
<polygon points="323.94,228.91 323.94,233.17 320.74,235.29 317.55,233.17 317.55,228.91 320.74,226.79" fill="#345f8d" stroke="#345f8d"/>
<polygon points="183.42,241.67 183.42,245.93 180.23,248.05 177.04,245.93 177.04,241.67 180.23,239.55" fill="#440154" stroke="#440154"/>
<polygon points="196.20,241.67 196.20,245.93 193.00,248.05 189.81,245.93 189.81,241.67 193.00,239.55" fill="#2c708e" stroke="#2c708e"/>
<polygon points="202.58,241.67 202.58,245.93 199.39,248.05 196.20,245.93 196.20,241.67 199.39,239.55" fill="#24848d" stroke="#24848d"/>
<polygon points="208.97,241.67 208.97,245.93 205.78,248.05 202.58,245.93 202.58,241.67 205.78,239.55" fill="#1e998a" stroke="#1e998a"/>
<polygon points="215.36,241.67 215.36,245.93 212.16,248.05 208.97,245.93 208.97,241.67 212.16,239.55" fill="#1e998a" stroke="#1e998a"/>
<polygon points="221.75,241.67 221.75,245.93 218.55,248.05 215.36,245.93 215.36,241.67 218.55,239.55" fill="#28ae7f" stroke="#28ae7f"/>
<polygon points="228.13,241.67 228.13,245.93 224.94,248.05 221.75,245.93 221.75,241.67 224.94,239.55" fill="#8bd546" stroke="#8bd546"/>
<polygon points="234.52,241.67 234.52,245.93 231.33,248.05 228.13,245.93 228.13,241.67 231.33,239.55" fill="#28ae7f" stroke="#28ae7f"/>
<polygon points="240.91,241.67 240.91,245.93 237.71,248.05 234.52,245.93 234.52,241.67 237.71,239.55" fill="#8bd546" stroke="#8bd546"/>
<polygon points="247.29,241.67 247.29,245.93 244.10,248.05 240.91,245.93 240.91,241.67 244.10,239.55" fill="#28ae7f" stroke="#28ae7f"/>
<polygon points="253.68,241.67 253.68,245.93 250.49,248.05 247.29,245.93 247.29,241.67 250.49,239.55" fill="#24848d" stroke="#24848d"/>
<polygon points="260.07,241.67 260.07,245.93 256.87,248.05 253.68,245.93 253.68,241.67 256.87,239.55" fill="#24848d" stroke="#24848d"/>
<polygon points="266.45,241.67 266.45,245.93 263.26,248.05 260.07,245.93 260.07,241.67 263.26,239.55" fill="#3c4e8a" stroke="#3c4e8a"/>
<polygon points="272.84,241.67 272.84,245.93 269.65,248.05 266.45,245.93 266.45,241.67 269.65,239.55" fill="#45347f" stroke="#45347f"/>
<polygon points="279.23,241.67 279.23,245.93 276.03,248.05 272.84,245.93 272.84,241.67 276.03,239.55" fill="#3c4e8a" stroke="#3c4e8a"/>
<polygon points="183.42,254.43 183.42,258.69 180.23,260.81 177.04,258.69 177.04,254.43 180.23,252.31" fill="#440154" stroke="#440154"/>
<polygon points="189.81,254.43 189.81,258.69 186.62,260.81 183.42,258.69 183.42,254.43 186.62,252.31" fill="#45347f" stroke="#45347f"/>
<polygon points="196.20,254.43 196.20,258.69 193.00,260.81 189.81,258.69 189.81,254.43 193.00,252.31" fill="#24848d" stroke="#24848d"/>
<polygon points="202.58,254.43 202.58,258.69 199.39,260.81 196.20,258.69 196.20,254.43 199.39,252.31" fill="#1e998a" stroke="#1e998a"/>
<polygon points="208.97,254.43 208.97,258.69 205.78,260.81 202.58,258.69 202.58,254.43 205.78,252.31" fill="#28ae7f" stroke="#28ae7f"/>
<polygon points="215.36,254.43 215.36,258.69 212.16,260.81 208.97,258.69 208.97,254.43 212.16,252.31" fill="#4fc369" stroke="#4fc369"/>
<polygon points="221.75,254.43 221.75,258.69 218.55,260.81 215.36,258.69 215.36,254.43 218.55,252.31" fill="#28ae7f" stroke="#28ae7f"/>
<polygon points="228.13,254.43 228.13,258.69 224.94,260.81 221.75,258.69 221.75,254.43 224.94,252.31" fill="#28ae7f" stroke="#28ae7f"/>
<polygon points="234.52,254.43 234.52,258.69 231.33,260.81 228.13,258.69 228.13,254.43 231.33,252.31" fill="#1e998a" stroke="#1e998a"/>
<polygon points="240.91,254.43 240.91,258.69 237.71,260.81 234.52,258.69 234.52,254.43 237.71,252.31" fill="#1e998a" stroke="#1e998a"/>
<polygon points="247.29,254.43 247.29,258.69 244.10,260.81 240.91,258.69 240.91,254.43 244.10,252.31" fill="#24848d" stroke="#24848d"/>
<polygon points="253.68,254.43 253.68,258.69 250.49,260.81 247.29,258.69 247.29,254.43 250.49,252.31" fill="#24848d" stroke="#24848d"/>
<polygon points="260.07,254.43 260.07,258.69 256.87,260.81 253.68,258.69 253.68,254.43 256.87,252.31" fill="#345f8d" stroke="#345f8d"/>
<polygon points="266.45,254.43 266.45,258.69 263.26,260.81 260.07,258.69 260.07,254.43 263.26,252.31" fill="#24848d" stroke="#24848d"/>
<polygon points="272.84,254.43 272.84,258.69 269.65,260.81 266.45,258.69 266.45,254.43 269.65,252.31" fill="#2c708e" stroke="#2c708e"/>
<polygon points="279.23,254.43 279.23,258.69 276.03,260.81 272.84,258.69 272.84,254.43 276.03,252.31" fill="#45347f" stroke="#45347f"/>
<polygon points="292.00,254.43 292.00,258.69 288.81,260.81 285.62,258.69 285.62,254.43 288.81,252.31" fill="#440154" stroke="#440154"/>
<polygon points="298.39,254.43 298.39,258.69 295.20,260.81 292.00,258.69 292.00,254.43 295.20,252.31" fill="#3c4e8a" stroke="#3c4e8a"/>
<polygon points="317.55,254.43 317.55,258.69 314.36,260.81 311.16,258.69 311.16,254.43 314.36,252.31" fill="#440154" stroke="#440154"/>
<polygon points="349.49,254.43 349.49,258.69 346.29,260.81 343.10,258.69 343.10,254.43 346.29,252.31" fill="#440154" stroke="#440154"/>
<polygon points="177.04,267.19 177.04,271.45 173.84,273.57 170.65,271.45 170.65,267.19 173.84,265.07" fill="#440154" stroke="#440154"/>
<polygon points="183.42,267.19 183.42,271.45 180.23,273.57 177.04,271.45 177.04,267.19 180.23,265.07" fill="#45347f" stroke="#45347f"/>
<polygon points="189.81,267.19 189.81,271.45 186.62,273.57 183.42,271.45 183.42,267.19 186.62,265.07" fill="#1e998a" stroke="#1e998a"/>
<polygon points="196.20,267.19 196.20,271.45 193.00,273.57 189.81,271.45 189.81,267.19 193.00,265.07" fill="#28ae7f" stroke="#28ae7f"/>
<polygon points="202.58,267.19 202.58,271.45 199.39,273.57 196.20,271.45 196.20,267.19 199.39,265.07" fill="#4fc369" stroke="#4fc369"/>
<polygon points="208.97,267.19 208.97,271.45 205.78,273.57 202.58,271.45 202.58,267.19 205.78,265.07" fill="#8bd546" stroke="#8bd546"/>
<polygon points="215.36,267.19 215.36,271.45 212.16,273.57 208.97,271.45 208.97,267.19 212.16,265.07" fill="#4fc369" stroke="#4fc369"/>
<polygon points="221.75,267.19 221.75,271.45 218.55,273.57 215.36,271.45 215.36,267.19 218.55,265.07" fill="#4fc369" stroke="#4fc369"/>
<polygon points="228.13,267.19 228.13,271.45 224.94,273.57 221.75,271.45 221.75,267.19 224.94,265.07" fill="#1e998a" stroke="#1e998a"/>
<polygon points="234.52,267.19 234.52,271.45 231.33,273.57 228.13,271.45 228.13,267.19 231.33,265.07" fill="#1e998a" stroke="#1e998a"/>
<polygon points="240.91,267.19 240.91,271.45 237.71,273.57 234.52,271.45 234.52,267.19 237.71,265.07" fill="#24848d" stroke="#24848d"/>
<polygon points="247.29,267.19 247.29,271.45 244.10,273.57 240.91,271.45 240.91,267.19 244.10,265.07" fill="#2c708e" stroke="#2c708e"/>
<polygon points="253.68,267.19 253.68,271.45 250.49,273.57 247.29,271.45 247.29,267.19 250.49,265.07" fill="#2c708e" stroke="#2c708e"/>
<polygon points="260.07,267.19 260.07,271.45 256.87,273.57 253.68,271.45 253.68,267.19 256.87,265.07" fill="#45347f" stroke="#45347f"/>
<polygon points="266.45,267.19 266.45,271.45 263.26,273.57 260.07,271.45 260.07,267.19 263.26,265.07" fill="#440154" stroke="#440154"/>
<polygon points="272.84,267.19 272.84,271.45 269.65,273.57 266.45,271.45 266.45,267.19 269.65,265.07" fill="#440154" stroke="#440154"/>
<polygon points="279.23,267.19 279.23,271.45 276.03,273.57 272.84,271.45 272.84,267.19 276.03,265.07" fill="#440154" stroke="#440154"/>
<polygon points="292.00,267.19 292.00,271.45 288.81,273.57 285.62,271.45 285.62,267.19 288.81,265.07" fill="#45347f" stroke="#45347f"/>
<polygon points="164.26,279.95 164.26,284.21 161.07,286.33 157.88,284.21 157.88,279.95 161.07,277.83" fill="#440154" stroke="#440154"/>
<polygon points="177.04,279.95 177.04,284.21 173.84,286.33 170.65,284.21 170.65,279.95 173.84,277.83" fill="#345f8d" stroke="#345f8d"/>
<polygon points="183.42,279.95 183.42,284.21 180.23,286.33 177.04,284.21 177.04,279.95 180.23,277.83" fill="#1e998a" stroke="#1e998a"/>
<polygon points="189.81,279.95 189.81,284.21 186.62,286.33 183.42,284.21 183.42,279.95 186.62,277.83" fill="#28ae7f" stroke="#28ae7f"/>
<polygon points="196.20,279.95 196.20,284.21 193.00,286.33 189.81,284.21 189.81,279.95 193.00,277.83" fill="#8bd546" stroke="#8bd546"/>
<polygon points="202.58,279.95 202.58,284.21 199.39,286.33 196.20,284.21 196.20,279.95 199.39,277.83" fill="#c7e01f" stroke="#c7e01f"/>
<polygon points="208.97,279.95 208.97,284.21 205.78,286.33 202.58,284.21 202.58,279.95 205.78,277.83" fill="#8bd546" stroke="#8bd546"/>
<polygon points="215.36,279.95 215.36,284.21 212.16,286.33 208.97,284.21 208.97,279.95 212.16,277.83" fill="#4fc369" stroke="#4fc369"/>
<polygon points="221.75,279.95 221.75,284.21 218.55,286.33 215.36,284.21 215.36,279.95 218.55,277.83" fill="#28ae7f" stroke="#28ae7f"/>
<polygon points="228.13,279.95 228.13,284.21 224.94,286.33 221.75,284.21 221.75,279.95 224.94,277.83" fill="#1e998a" stroke="#1e998a"/>
<polygon points="234.52,279.95 234.52,284.21 231.33,286.33 228.13,284.21 228.13,279.95 231.33,277.83" fill="#24848d" stroke="#24848d"/>
<polygon points="240.91,279.95 240.91,284.21 237.71,286.33 234.52,284.21 234.52,279.95 237.71,277.83" fill="#2c708e" stroke="#2c708e"/>
<polygon points="247.29,279.95 247.29,284.21 244.10,286.33 240.91,284.21 240.91,279.95 244.10,277.83" fill="#345f8d" stroke="#345f8d"/>
<polygon points="253.68,279.95 253.68,284.21 250.49,286.33 247.29,284.21 247.29,279.95 250.49,277.83" fill="#45347f" stroke="#45347f"/>
<polygon points="260.07,279.95 260.07,284.21 256.87,286.33 253.68,284.21 253.68,279.95 256.87,277.83" fill="#3c4e8a" stroke="#3c4e8a"/>
<polygon points="266.45,279.95 266.45,284.21 263.26,286.33 260.07,284.21 260.07,279.95 263.26,277.83" fill="#345f8d" stroke="#345f8d"/>
<polygon points="272.84,279.95 272.84,284.21 269.65,286.33 266.45,284.21 266.45,279.95 269.65,277.83" fill="#440154" stroke="#440154"/>
<polygon points="311.16,279.95 311.16,284.21 307.97,286.33 304.78,284.21 304.78,279.95 307.97,277.83" fill="#440154" stroke="#440154"/>
<polygon points="317.55,279.95 317.55,284.21 314.36,286.33 311.16,284.21 311.16,279.95 314.36,277.83" fill="#440154" stroke="#440154"/>
<polygon points="170.65,292.71 170.65,296.97 167.46,299.09 164.26,296.97 164.26,292.71 167.46,290.59" fill="#3c4e8a" stroke="#3c4e8a"/>
<polygon points="177.04,292.71 177.04,296.97 173.84,299.09 170.65,296.97 170.65,292.71 173.84,290.59" fill="#24848d" stroke="#24848d"/>
<polygon points="183.42,292.71 183.42,296.97 180.23,299.09 177.04,296.97 177.04,292.71 180.23,290.59" fill="#4fc369" stroke="#4fc369"/>
<polygon points="189.81,292.71 189.81,296.97 186.62,299.09 183.42,296.97 183.42,292.71 186.62,290.59" fill="#8bd546" stroke="#8bd546"/>
<polygon points="196.20,292.71 196.20,296.97 193.00,299.09 189.81,296.97 189.81,292.71 193.00,290.59" fill="#fde724" stroke="#fde724"/>
<polygon points="202.58,292.71 202.58,296.97 199.39,299.09 196.20,296.97 196.20,292.71 199.39,290.59" fill="#c7e01f" stroke="#c7e01f"/>
<polygon points="208.97,292.71 208.97,296.97 205.78,299.09 202.58,296.97 202.58,292.71 205.78,290.59" fill="#4fc369" stroke="#4fc369"/>
<polygon points="215.36,292.71 215.36,296.97 212.16,299.09 208.97,296.97 208.97,292.71 212.16,290.59" fill="#1e998a" stroke="#1e998a"/>
<polygon points="221.75,292.71 221.75,296.97 218.55,299.09 215.36,296.97 215.36,292.71 218.55,290.59" fill="#24848d" stroke="#24848d"/>
<polygon points="228.13,292.71 228.13,296.97 224.94,299.09 221.75,296.97 221.75,292.71 224.94,290.59" fill="#2c708e" stroke="#2c708e"/>
<polygon points="234.52,292.71 234.52,296.97 231.33,299.09 228.13,296.97 228.13,292.71 231.33,290.59" fill="#2c708e" stroke="#2c708e"/>
<polygon points="240.91,292.71 240.91,296.97 237.71,299.09 234.52,296.97 234.52,292.71 237.71,290.59" fill="#45347f" stroke="#45347f"/>
<polygon points="247.29,292.71 247.29,296.97 244.10,299.09 240.91,296.97 240.91,292.71 244.10,290.59" fill="#440154" stroke="#440154"/>
<polygon points="253.68,292.71 253.68,296.97 250.49,299.09 247.29,296.97 247.29,292.71 250.49,290.59" fill="#45347f" stroke="#45347f"/>
<polygon points="266.45,292.71 266.45,296.97 263.26,299.09 260.07,296.97 260.07,292.71 263.26,290.59" fill="#440154" stroke="#440154"/>
<polygon points="298.39,292.71 298.39,296.97 295.20,299.09 292.00,296.97 292.00,292.71 295.20,290.59" fill="#440154" stroke="#440154"/>
<polygon points="157.88,305.47 157.88,309.73 154.68,311.85 151.49,309.73 151.49,305.47 154.68,303.35" fill="#440154" stroke="#440154"/>
<polygon points="164.26,305.47 164.26,309.73 161.07,311.85 157.88,309.73 157.88,305.47 161.07,303.35" fill="#2c708e" stroke="#2c708e"/>
<polygon points="170.65,305.47 170.65,309.73 167.46,311.85 164.26,309.73 164.26,305.47 167.46,303.35" fill="#1e998a" stroke="#1e998a"/>
<polygon points="177.04,305.47 177.04,309.73 173.84,311.85 170.65,309.73 170.65,305.47 173.84,303.35" fill="#8bd546" stroke="#8bd546"/>
<polygon points="183.42,305.47 183.42,309.73 180.23,311.85 177.04,309.73 177.04,305.47 180.23,303.35" fill="#c7e01f" stroke="#c7e01f"/>
<polygon points="189.81,305.47 189.81,309.73 186.62,311.85 183.42,309.73 183.42,305.47 186.62,303.35" fill="#fde724" stroke="#fde724"/>
<polygon points="196.20,305.47 196.20,309.73 193.00,311.85 189.81,309.73 189.81,305.47 193.00,303.35" fill="#c7e01f" stroke="#c7e01f"/>
<polygon points="202.58,305.47 202.58,309.73 199.39,311.85 196.20,309.73 196.20,305.47 199.39,303.35" fill="#8bd546" stroke="#8bd546"/>
<polygon points="208.97,305.47 208.97,309.73 205.78,311.85 202.58,309.73 202.58,305.47 205.78,303.35" fill="#4fc369" stroke="#4fc369"/>
<polygon points="215.36,305.47 215.36,309.73 212.16,311.85 208.97,309.73 208.97,305.47 212.16,303.35" fill="#2c708e" stroke="#2c708e"/>
<polygon points="221.75,305.47 221.75,309.73 218.55,311.85 215.36,309.73 215.36,305.47 218.55,303.35" fill="#2c708e" stroke="#2c708e"/>
<polygon points="228.13,305.47 228.13,309.73 224.94,311.85 221.75,309.73 221.75,305.47 224.94,303.35" fill="#345f8d" stroke="#345f8d"/>
<polygon points="234.52,305.47 234.52,309.73 231.33,311.85 228.13,309.73 228.13,305.47 231.33,303.35" fill="#3c4e8a" stroke="#3c4e8a"/>
<polygon points="240.91,305.47 240.91,309.73 237.71,311.85 234.52,309.73 234.52,305.47 237.71,303.35" fill="#45347f" stroke="#45347f"/>
<polygon points="253.68,305.47 253.68,309.73 250.49,311.85 247.29,309.73 247.29,305.47 250.49,303.35" fill="#440154" stroke="#440154"/>
<polygon points="260.07,305.47 260.07,309.73 256.87,311.85 253.68,309.73 253.68,305.47 256.87,303.35" fill="#440154" stroke="#440154"/>
<polygon points="151.49,318.23 151.49,322.49 148.30,324.61 145.10,322.49 145.10,318.23 148.30,316.11" fill="#440154" stroke="#440154"/>
<polygon points="157.88,318.23 157.88,322.49 154.68,324.61 151.49,322.49 151.49,318.23 154.68,316.11" fill="#2c708e" stroke="#2c708e"/>
<polygon points="164.26,318.23 164.26,322.49 161.07,324.61 157.88,322.49 157.88,318.23 161.07,316.11" fill="#1e998a" stroke="#1e998a"/>
<polygon points="170.65,318.23 170.65,322.49 167.46,324.61 164.26,322.49 164.26,318.23 167.46,316.11" fill="#4fc369" stroke="#4fc369"/>
<polygon points="177.04,318.23 177.04,322.49 173.84,324.61 170.65,322.49 170.65,318.23 173.84,316.11" fill="#fde724" stroke="#fde724"/>
<polygon points="183.42,318.23 183.42,322.49 180.23,324.61 177.04,322.49 177.04,318.23 180.23,316.11" fill="#fde724" stroke="#fde724"/>
<polygon points="189.81,318.23 189.81,322.49 186.62,324.61 183.42,322.49 183.42,318.23 186.62,316.11" fill="#fde724" stroke="#fde724"/>
<polygon points="196.20,318.23 196.20,322.49 193.00,324.61 189.81,322.49 189.81,318.23 193.00,316.11" fill="#4fc369" stroke="#4fc369"/>
<polygon points="202.58,318.23 202.58,322.49 199.39,324.61 196.20,322.49 196.20,318.23 199.39,316.11" fill="#1e998a" stroke="#1e998a"/>
<polygon points="208.97,318.23 208.97,322.49 205.78,324.61 202.58,322.49 202.58,318.23 205.78,316.11" fill="#24848d" stroke="#24848d"/>
<polygon points="215.36,318.23 215.36,322.49 212.16,324.61 208.97,322.49 208.97,318.23 212.16,316.11" fill="#2c708e" stroke="#2c708e"/>
<polygon points="221.75,318.23 221.75,322.49 218.55,324.61 215.36,322.49 215.36,318.23 218.55,316.11" fill="#2c708e" stroke="#2c708e"/>
<polygon points="228.13,318.23 228.13,322.49 224.94,324.61 221.75,322.49 221.75,318.23 224.94,316.11" fill="#45347f" stroke="#45347f"/>
<polygon points="234.52,318.23 234.52,322.49 231.33,324.61 228.13,322.49 228.13,318.23 231.33,316.11" fill="#3c4e8a" stroke="#3c4e8a"/>
<polygon points="240.91,318.23 240.91,322.49 237.71,324.61 234.52,322.49 234.52,318.23 237.71,316.11" fill="#45347f" stroke="#45347f"/>
<polygon points="272.84,318.23 272.84,322.49 269.65,324.61 266.45,322.49 266.45,318.23 269.65,316.11" fill="#440154" stroke="#440154"/>
<polygon points="145.10,330.99 145.10,335.25 141.91,337.37 138.71,335.25 138.71,330.99 141.91,328.87" fill="#4fc369" stroke="#4fc369"/>
<polygon points="151.49,330.99 151.49,335.25 148.30,337.37 145.10,335.25 145.10,330.99 148.30,328.87" fill="#fde724" stroke="#fde724"/>
<polygon points="157.88,330.99 157.88,335.25 154.68,337.37 151.49,335.25 151.49,330.99 154.68,328.87" fill="#fde724" stroke="#fde724"/>
<polygon points="164.26,330.99 164.26,335.25 161.07,337.37 157.88,335.25 157.88,330.99 161.07,328.87" fill="#fde724" stroke="#fde724"/>
<polygon points="170.65,330.99 170.65,335.25 167.46,337.37 164.26,335.25 164.26,330.99 167.46,328.87" fill="#fde724" stroke="#fde724"/>
<polygon points="177.04,330.99 177.04,335.25 173.84,337.37 170.65,335.25 170.65,330.99 173.84,328.87" fill="#fde724" stroke="#fde724"/>
<polygon points="183.42,330.99 183.42,335.25 180.23,337.37 177.04,335.25 177.04,330.99 180.23,328.87" fill="#c7e01f" stroke="#c7e01f"/>
<polygon points="189.81,330.99 189.81,335.25 186.62,337.37 183.42,335.25 183.42,330.99 186.62,328.87" fill="#1e998a" stroke="#1e998a"/>
<polygon points="196.20,330.99 196.20,335.25 193.00,337.37 189.81,335.25 189.81,330.99 193.00,328.87" fill="#24848d" stroke="#24848d"/>
<polygon points="202.58,330.99 202.58,335.25 199.39,337.37 196.20,335.25 196.20,330.99 199.39,328.87" fill="#2c708e" stroke="#2c708e"/>
<polygon points="208.97,330.99 208.97,335.25 205.78,337.37 202.58,335.25 202.58,330.99 205.78,328.87" fill="#440154" stroke="#440154"/>
<polygon points="215.36,330.99 215.36,335.25 212.16,337.37 208.97,335.25 208.97,330.99 212.16,328.87" fill="#3c4e8a" stroke="#3c4e8a"/>
<polygon points="221.75,330.99 221.75,335.25 218.55,337.37 215.36,335.25 215.36,330.99 218.55,328.87" fill="#45347f" stroke="#45347f"/>
<polygon points="228.13,330.99 228.13,335.25 224.94,337.37 221.75,335.25 221.75,330.99 224.94,328.87" fill="#345f8d" stroke="#345f8d"/>
<polygon points="234.52,330.99 234.52,335.25 231.33,337.37 228.13,335.25 228.13,330.99 231.33,328.87" fill="#440154" stroke="#440154"/>
<polygon points="240.91,330.99 240.91,335.25 237.71,337.37 234.52,335.25 234.52,330.99 237.71,328.87" fill="#345f8d" stroke="#345f8d"/>
<polygon points="247.29,330.99 247.29,335.25 244.10,337.37 240.91,335.25 240.91,330.99 244.10,328.87" fill="#440154" stroke="#440154"/>
<polygon points="266.45,330.99 266.45,335.25 263.26,337.37 260.07,335.25 260.07,330.99 263.26,328.87" fill="#440154" stroke="#440154"/>
<polygon points="145.10,343.75 145.10,348.01 141.91,350.13 138.71,348.01 138.71,343.75 141.91,341.63" fill="#4fc369" stroke="#4fc369"/>
<polygon points="151.49,343.75 151.49,348.01 148.30,350.13 145.10,348.01 145.10,343.75 148.30,341.63" fill="#fde724" stroke="#fde724"/>
<polygon points="157.88,343.75 157.88,348.01 154.68,350.13 151.49,348.01 151.49,343.75 154.68,341.63" fill="#fde724" stroke="#fde724"/>
<polygon points="164.26,343.75 164.26,348.01 161.07,350.13 157.88,348.01 157.88,343.75 161.07,341.63" fill="#fde724" stroke="#fde724"/>
<polygon points="170.65,343.75 170.65,348.01 167.46,350.13 164.26,348.01 164.26,343.75 167.46,341.63" fill="#fde724" stroke="#fde724"/>
<polygon points="177.04,343.75 177.04,348.01 173.84,350.13 170.65,348.01 170.65,343.75 173.84,341.63" fill="#8bd546" stroke="#8bd546"/>
<polygon points="183.42,343.75 183.42,348.01 180.23,350.13 177.04,348.01 177.04,343.75 180.23,341.63" fill="#440154" stroke="#440154"/>
<polygon points="189.81,343.75 189.81,348.01 186.62,350.13 183.42,348.01 183.42,343.75 186.62,341.63" fill="#440154" stroke="#440154"/>
<polygon points="215.36,343.75 215.36,348.01 212.16,350.13 208.97,348.01 208.97,343.75 212.16,341.63" fill="#440154" stroke="#440154"/>
<polygon points="138.71,356.51 138.71,360.77 135.52,362.89 132.33,360.77 132.33,356.51 135.52,354.39" fill="#440154" stroke="#440154"/>
<polygon points="145.10,356.51 145.10,360.77 141.91,362.89 138.71,360.77 138.71,356.51 141.91,354.39" fill="#c7e01f" stroke="#c7e01f"/>
<polygon points="151.49,356.51 151.49,360.77 148.30,362.89 145.10,360.77 145.10,356.51 148.30,354.39" fill="#4fc369" stroke="#4fc369"/>
<polygon points="157.88,356.51 157.88,360.77 154.68,362.89 151.49,360.77 151.49,356.51 154.68,354.39" fill="#1e998a" stroke="#1e998a"/>
<polygon points="164.26,356.51 164.26,360.77 161.07,362.89 157.88,360.77 157.88,356.51 161.07,354.39" fill="#2c708e" stroke="#2c708e"/>
<polygon points="170.65,356.51 170.65,360.77 167.46,362.89 164.26,360.77 164.26,356.51 167.46,354.39" fill="#440154" stroke="#440154"/>
<polygon points="138.71,369.27 138.71,373.53 135.52,375.65 132.33,373.53 132.33,369.27 135.52,367.15" fill="#2c708e" stroke="#2c708e"/>
<polygon points="346.29,56.65 346.29,60.91 343.10,63.03 339.91,60.91 339.91,56.65 343.10,54.53" fill="#440154" stroke="#440154"/>
<polygon points="403.77,56.65 403.77,60.91 400.58,63.03 397.39,60.91 397.39,56.65 400.58,54.53" fill="#440154" stroke="#440154"/>
<polygon points="307.97,69.41 307.97,73.67 304.78,75.79 301.58,73.67 301.58,69.41 304.78,67.29" fill="#440154" stroke="#440154"/>
<polygon points="327.13,69.41 327.13,73.67 323.94,75.79 320.74,73.67 320.74,69.41 323.94,67.29" fill="#45347f" stroke="#45347f"/>
<polygon points="333.52,69.41 333.52,73.67 330.32,75.79 327.13,73.67 327.13,69.41 330.32,67.29" fill="#440154" stroke="#440154"/>
<polygon points="339.90,69.41 339.90,73.67 336.71,75.79 333.52,73.67 333.52,69.41 336.71,67.29" fill="#440154" stroke="#440154"/>
<polygon points="359.07,69.41 359.07,73.67 355.87,75.79 352.68,73.67 352.68,69.41 355.87,67.29" fill="#45347f" stroke="#45347f"/>
<polygon points="365.45,69.41 365.45,73.67 362.26,75.79 359.07,73.67 359.07,69.41 362.26,67.29" fill="#45347f" stroke="#45347f"/>
<polygon points="371.84,69.41 371.84,73.67 368.65,75.79 365.45,73.67 365.45,69.41 368.65,67.29" fill="#440154" stroke="#440154"/>
<polygon points="378.23,69.41 378.23,73.67 375.03,75.79 371.84,73.67 371.84,69.41 375.03,67.29" fill="#440154" stroke="#440154"/>
<polygon points="384.61,69.41 384.61,73.67 381.42,75.79 378.23,73.67 378.23,69.41 381.42,67.29" fill="#345f8d" stroke="#345f8d"/>
<polygon points="391.00,69.41 391.00,73.67 387.81,75.79 384.61,73.67 384.61,69.41 387.81,67.29" fill="#440154" stroke="#440154"/>
<polygon points="403.77,69.41 403.77,73.67 400.58,75.79 397.39,73.67 397.39,69.41 400.58,67.29" fill="#3c4e8a" stroke="#3c4e8a"/>
<polygon points="256.87,82.17 256.87,86.43 253.68,88.55 250.49,86.43 250.49,82.17 253.68,80.05" fill="#440154" stroke="#440154"/>
<polygon points="263.26,82.17 263.26,86.43 260.07,88.55 256.87,86.43 256.87,82.17 260.07,80.05" fill="#440154" stroke="#440154"/>
<polygon points="295.20,82.17 295.20,86.43 292.00,88.55 288.81,86.43 288.81,82.17 292.00,80.05" fill="#440154" stroke="#440154"/>
<polygon points="301.58,82.17 301.58,86.43 298.39,88.55 295.20,86.43 295.20,82.17 298.39,80.05" fill="#440154" stroke="#440154"/>
<polygon points="307.97,82.17 307.97,86.43 304.78,88.55 301.58,86.43 301.58,82.17 304.78,80.05" fill="#45347f" stroke="#45347f"/>
<polygon points="314.36,82.17 314.36,86.43 311.16,88.55 307.97,86.43 307.97,82.17 311.16,80.05" fill="#440154" stroke="#440154"/>
<polygon points="320.74,82.17 320.74,86.43 317.55,88.55 314.36,86.43 314.36,82.17 317.55,80.05" fill="#45347f" stroke="#45347f"/>
<polygon points="327.13,82.17 327.13,86.43 323.94,88.55 320.74,86.43 320.74,82.17 323.94,80.05" fill="#440154" stroke="#440154"/>
<polygon points="339.90,82.17 339.90,86.43 336.71,88.55 333.52,86.43 333.52,82.17 336.71,80.05" fill="#45347f" stroke="#45347f"/>
<polygon points="352.68,82.17 352.68,86.43 349.49,88.55 346.29,86.43 346.29,82.17 349.49,80.05" fill="#45347f" stroke="#45347f"/>
<polygon points="359.07,82.17 359.07,86.43 355.87,88.55 352.68,86.43 352.68,82.17 355.87,80.05" fill="#345f8d" stroke="#345f8d"/>
<polygon points="365.45,82.17 365.45,86.43 362.26,88.55 359.07,86.43 359.07,82.17 362.26,80.05" fill="#440154" stroke="#440154"/>
<polygon points="371.84,82.17 371.84,86.43 368.65,88.55 365.45,86.43 365.45,82.17 368.65,80.05" fill="#45347f" stroke="#45347f"/>
<polygon points="378.23,82.17 378.23,86.43 375.03,88.55 371.84,86.43 371.84,82.17 375.03,80.05" fill="#24848d" stroke="#24848d"/>
<polygon points="384.61,82.17 384.61,86.43 381.42,88.55 378.23,86.43 378.23,82.17 381.42,80.05" fill="#24848d" stroke="#24848d"/>
<polygon points="391.00,82.17 391.00,86.43 387.81,88.55 384.61,86.43 384.61,82.17 387.81,80.05" fill="#2c708e" stroke="#2c708e"/>
<polygon points="397.39,82.17 397.39,86.43 394.19,88.55 391.00,86.43 391.00,82.17 394.19,80.05" fill="#24848d" stroke="#24848d"/>
<polygon points="403.77,82.17 403.77,86.43 400.58,88.55 397.39,86.43 397.39,82.17 400.58,80.05" fill="#345f8d" stroke="#345f8d"/>
<polygon points="410.16,82.17 410.16,86.43 406.97,88.55 403.77,86.43 403.77,82.17 406.97,80.05" fill="#45347f" stroke="#45347f"/>
<polygon points="269.65,94.93 269.65,99.19 266.45,101.31 263.26,99.19 263.26,94.93 266.45,92.81" fill="#440154" stroke="#440154"/>
<polygon points="282.42,94.93 282.42,99.19 279.23,101.31 276.04,99.19 276.04,94.93 279.23,92.81" fill="#440154" stroke="#440154"/>
<polygon points="301.58,94.93 301.58,99.19 298.39,101.31 295.20,99.19 295.20,94.93 298.39,92.81" fill="#440154" stroke="#440154"/>
<polygon points="307.97,94.93 307.97,99.19 304.78,101.31 301.58,99.19 301.58,94.93 304.78,92.81" fill="#440154" stroke="#440154"/>
<polygon points="327.13,94.93 327.13,99.19 323.94,101.31 320.74,99.19 320.74,94.93 323.94,92.81" fill="#440154" stroke="#440154"/>
<polygon points="333.52,94.93 333.52,99.19 330.32,101.31 327.13,99.19 327.13,94.93 330.32,92.81" fill="#24848d" stroke="#24848d"/>
<polygon points="339.90,94.93 339.90,99.19 336.71,101.31 333.52,99.19 333.52,94.93 336.71,92.81" fill="#345f8d" stroke="#345f8d"/>
<polygon points="346.29,94.93 346.29,99.19 343.10,101.31 339.91,99.19 339.91,94.93 343.10,92.81" fill="#24848d" stroke="#24848d"/>
<polygon points="352.68,94.93 352.68,99.19 349.49,101.31 346.29,99.19 346.29,94.93 349.49,92.81" fill="#2c708e" stroke="#2c708e"/>
<polygon points="359.07,94.93 359.07,99.19 355.87,101.31 352.68,99.19 352.68,94.93 355.87,92.81" fill="#345f8d" stroke="#345f8d"/>
<polygon points="365.45,94.93 365.45,99.19 362.26,101.31 359.07,99.19 359.07,94.93 362.26,92.81" fill="#2c708e" stroke="#2c708e"/>
<polygon points="371.84,94.93 371.84,99.19 368.65,101.31 365.45,99.19 365.45,94.93 368.65,92.81" fill="#24848d" stroke="#24848d"/>
<polygon points="378.23,94.93 378.23,99.19 375.03,101.31 371.84,99.19 371.84,94.93 375.03,92.81" fill="#1e998a" stroke="#1e998a"/>
<polygon points="384.61,94.93 384.61,99.19 381.42,101.31 378.23,99.19 378.23,94.93 381.42,92.81" fill="#2c708e" stroke="#2c708e"/>
<polygon points="403.77,94.93 403.77,99.19 400.58,101.31 397.39,99.19 397.39,94.93 400.58,92.81" fill="#440154" stroke="#440154"/>
<polygon points="263.26,107.69 263.26,111.95 260.07,114.07 256.87,111.95 256.87,107.69 260.07,105.57" fill="#440154" stroke="#440154"/>
<polygon points="269.65,107.69 269.65,111.95 266.45,114.07 263.26,111.95 263.26,107.69 266.45,105.57" fill="#45347f" stroke="#45347f"/>
<polygon points="276.03,107.69 276.03,111.95 272.84,114.07 269.65,111.95 269.65,107.69 272.84,105.57" fill="#440154" stroke="#440154"/>
<polygon points="301.58,107.69 301.58,111.95 298.39,114.07 295.20,111.95 295.20,107.69 298.39,105.57" fill="#440154" stroke="#440154"/>
<polygon points="307.97,107.69 307.97,111.95 304.78,114.07 301.58,111.95 301.58,107.69 304.78,105.57" fill="#440154" stroke="#440154"/>
<polygon points="314.36,107.69 314.36,111.95 311.16,114.07 307.97,111.95 307.97,107.69 311.16,105.57" fill="#3c4e8a" stroke="#3c4e8a"/>
<polygon points="320.74,107.69 320.74,111.95 317.55,114.07 314.36,111.95 314.36,107.69 317.55,105.57" fill="#3c4e8a" stroke="#3c4e8a"/>
<polygon points="327.13,107.69 327.13,111.95 323.94,114.07 320.74,111.95 320.74,107.69 323.94,105.57" fill="#45347f" stroke="#45347f"/>
<polygon points="333.52,107.69 333.52,111.95 330.32,114.07 327.13,111.95 327.13,107.69 330.32,105.57" fill="#345f8d" stroke="#345f8d"/>
<polygon points="339.90,107.69 339.90,111.95 336.71,114.07 333.52,111.95 333.52,107.69 336.71,105.57" fill="#24848d" stroke="#24848d"/>
<polygon points="346.29,107.69 346.29,111.95 343.10,114.07 339.91,111.95 339.91,107.69 343.10,105.57" fill="#2c708e" stroke="#2c708e"/>
<polygon points="352.68,107.69 352.68,111.95 349.49,114.07 346.29,111.95 346.29,107.69 349.49,105.57" fill="#24848d" stroke="#24848d"/>
<polygon points="359.07,107.69 359.07,111.95 355.87,114.07 352.68,111.95 352.68,107.69 355.87,105.57" fill="#2c708e" stroke="#2c708e"/>
<polygon points="365.45,107.69 365.45,111.95 362.26,114.07 359.07,111.95 359.07,107.69 362.26,105.57" fill="#1e998a" stroke="#1e998a"/>
<polygon points="371.84,107.69 371.84,111.95 368.65,114.07 365.45,111.95 365.45,107.69 368.65,105.57" fill="#345f8d" stroke="#345f8d"/>
<polygon points="378.23,107.69 378.23,111.95 375.03,114.07 371.84,111.95 371.84,107.69 375.03,105.57" fill="#45347f" stroke="#45347f"/>
<polygon points="384.61,107.69 384.61,111.95 381.42,114.07 378.23,111.95 378.23,107.69 381.42,105.57" fill="#345f8d" stroke="#345f8d"/>
<polygon points="397.39,107.69 397.39,111.95 394.19,114.07 391.00,111.95 391.00,107.69 394.19,105.57" fill="#440154" stroke="#440154"/>
<polygon points="416.55,107.69 416.55,111.95 413.36,114.07 410.16,111.95 410.16,107.69 413.36,105.57" fill="#440154" stroke="#440154"/>
<polygon points="263.26,120.45 263.26,124.71 260.07,126.83 256.87,124.71 256.87,120.45 260.07,118.33" fill="#45347f" stroke="#45347f"/>
<polygon points="276.03,120.45 276.03,124.71 272.84,126.83 269.65,124.71 269.65,120.45 272.84,118.33" fill="#45347f" stroke="#45347f"/>
<polygon points="288.81,120.45 288.81,124.71 285.62,126.83 282.42,124.71 282.42,120.45 285.62,118.33" fill="#45347f" stroke="#45347f"/>
<polygon points="295.20,120.45 295.20,124.71 292.00,126.83 288.81,124.71 288.81,120.45 292.00,118.33" fill="#345f8d" stroke="#345f8d"/>
<polygon points="301.58,120.45 301.58,124.71 298.39,126.83 295.20,124.71 295.20,120.45 298.39,118.33" fill="#345f8d" stroke="#345f8d"/>
<polygon points="307.97,120.45 307.97,124.71 304.78,126.83 301.58,124.71 301.58,120.45 304.78,118.33" fill="#2c708e" stroke="#2c708e"/>
<polygon points="314.36,120.45 314.36,124.71 311.16,126.83 307.97,124.71 307.97,120.45 311.16,118.33" fill="#45347f" stroke="#45347f"/>
<polygon points="320.74,120.45 320.74,124.71 317.55,126.83 314.36,124.71 314.36,120.45 317.55,118.33" fill="#2c708e" stroke="#2c708e"/>
<polygon points="327.13,120.45 327.13,124.71 323.94,126.83 320.74,124.71 320.74,120.45 323.94,118.33" fill="#24848d" stroke="#24848d"/>
<polygon points="333.52,120.45 333.52,124.71 330.32,126.83 327.13,124.71 327.13,120.45 330.32,118.33" fill="#1e998a" stroke="#1e998a"/>
<polygon points="339.90,120.45 339.90,124.71 336.71,126.83 333.52,124.71 333.52,120.45 336.71,118.33" fill="#24848d" stroke="#24848d"/>
<polygon points="346.29,120.45 346.29,124.71 343.10,126.83 339.91,124.71 339.91,120.45 343.10,118.33" fill="#1e998a" stroke="#1e998a"/>
<polygon points="352.68,120.45 352.68,124.71 349.49,126.83 346.29,124.71 346.29,120.45 349.49,118.33" fill="#2c708e" stroke="#2c708e"/>
<polygon points="359.07,120.45 359.07,124.71 355.87,126.83 352.68,124.71 352.68,120.45 355.87,118.33" fill="#24848d" stroke="#24848d"/>
<polygon points="365.45,120.45 365.45,124.71 362.26,126.83 359.07,124.71 359.07,120.45 362.26,118.33" fill="#2c708e" stroke="#2c708e"/>
<polygon points="371.84,120.45 371.84,124.71 368.65,126.83 365.45,124.71 365.45,120.45 368.65,118.33" fill="#440154" stroke="#440154"/>
<polygon points="378.23,120.45 378.23,124.71 375.03,126.83 371.84,124.71 371.84,120.45 375.03,118.33" fill="#440154" stroke="#440154"/>
<polygon points="384.61,120.45 384.61,124.71 381.42,126.83 378.23,124.71 378.23,120.45 381.42,118.33" fill="#45347f" stroke="#45347f"/>
<polygon points="391.00,120.45 391.00,124.71 387.81,126.83 384.61,124.71 384.61,120.45 387.81,118.33" fill="#440154" stroke="#440154"/>
<polygon points="410.16,120.45 410.16,124.71 406.97,126.83 403.77,124.71 403.77,120.45 406.97,118.33" fill="#440154" stroke="#440154"/>
<polygon points="263.26,133.21 263.26,137.47 260.07,139.59 256.87,137.47 256.87,133.21 260.07,131.09" fill="#440154" stroke="#440154"/>
<polygon points="269.65,133.21 269.65,137.47 266.45,139.59 263.26,137.47 263.26,133.21 266.45,131.09" fill="#3c4e8a" stroke="#3c4e8a"/>
<polygon points="276.03,133.21 276.03,137.47 272.84,139.59 269.65,137.47 269.65,133.21 272.84,131.09" fill="#440154" stroke="#440154"/>
<polygon points="282.42,133.21 282.42,137.47 279.23,139.59 276.04,137.47 276.04,133.21 279.23,131.09" fill="#345f8d" stroke="#345f8d"/>
<polygon points="288.81,133.21 288.81,137.47 285.62,139.59 282.42,137.47 282.42,133.21 285.62,131.09" fill="#345f8d" stroke="#345f8d"/>
<polygon points="295.20,133.21 295.20,137.47 292.00,139.59 288.81,137.47 288.81,133.21 292.00,131.09" fill="#3c4e8a" stroke="#3c4e8a"/>
<polygon points="301.58,133.21 301.58,137.47 298.39,139.59 295.20,137.47 295.20,133.21 298.39,131.09" fill="#2c708e" stroke="#2c708e"/>
<polygon points="307.97,133.21 307.97,137.47 304.78,139.59 301.58,137.47 301.58,133.21 304.78,131.09" fill="#45347f" stroke="#45347f"/>
<polygon points="314.36,133.21 314.36,137.47 311.16,139.59 307.97,137.47 307.97,133.21 311.16,131.09" fill="#2c708e" stroke="#2c708e"/>
<polygon points="320.74,133.21 320.74,137.47 317.55,139.59 314.36,137.47 314.36,133.21 317.55,131.09" fill="#1e998a" stroke="#1e998a"/>
<polygon points="327.13,133.21 327.13,137.47 323.94,139.59 320.74,137.47 320.74,133.21 323.94,131.09" fill="#28ae7f" stroke="#28ae7f"/>
<polygon points="333.52,133.21 333.52,137.47 330.32,139.59 327.13,137.47 327.13,133.21 330.32,131.09" fill="#1e998a" stroke="#1e998a"/>
<polygon points="339.90,133.21 339.90,137.47 336.71,139.59 333.52,137.47 333.52,133.21 336.71,131.09" fill="#24848d" stroke="#24848d"/>
<polygon points="346.29,133.21 346.29,137.47 343.10,139.59 339.91,137.47 339.91,133.21 343.10,131.09" fill="#2c708e" stroke="#2c708e"/>
<polygon points="352.68,133.21 352.68,137.47 349.49,139.59 346.29,137.47 346.29,133.21 349.49,131.09" fill="#45347f" stroke="#45347f"/>
<polygon points="359.07,133.21 359.07,137.47 355.87,139.59 352.68,137.47 352.68,133.21 355.87,131.09" fill="#440154" stroke="#440154"/>
<polygon points="365.45,133.21 365.45,137.47 362.26,139.59 359.07,137.47 359.07,133.21 362.26,131.09" fill="#440154" stroke="#440154"/>
<polygon points="371.84,133.21 371.84,137.47 368.65,139.59 365.45,137.47 365.45,133.21 368.65,131.09" fill="#440154" stroke="#440154"/>
<polygon points="378.23,133.21 378.23,137.47 375.03,139.59 371.84,137.47 371.84,133.21 375.03,131.09" fill="#440154" stroke="#440154"/>
<polygon points="231.33,145.97 231.33,150.23 228.13,152.35 224.94,150.23 224.94,145.97 228.13,143.85" fill="#440154" stroke="#440154"/>
<polygon points="237.71,145.97 237.71,150.23 234.52,152.35 231.33,150.23 231.33,145.97 234.52,143.85" fill="#45347f" stroke="#45347f"/>
<polygon points="256.87,145.97 256.87,150.23 253.68,152.35 250.49,150.23 250.49,145.97 253.68,143.85" fill="#440154" stroke="#440154"/>
<polygon points="263.26,145.97 263.26,150.23 260.07,152.35 256.87,150.23 256.87,145.97 260.07,143.85" fill="#45347f" stroke="#45347f"/>
<polygon points="276.03,145.97 276.03,150.23 272.84,152.35 269.65,150.23 269.65,145.97 272.84,143.85" fill="#440154" stroke="#440154"/>
<polygon points="282.42,145.97 282.42,150.23 279.23,152.35 276.04,150.23 276.04,145.97 279.23,143.85" fill="#2c708e" stroke="#2c708e"/>
<polygon points="288.81,145.97 288.81,150.23 285.62,152.35 282.42,150.23 282.42,145.97 285.62,143.85" fill="#24848d" stroke="#24848d"/>
<polygon points="295.20,145.97 295.20,150.23 292.00,152.35 288.81,150.23 288.81,145.97 292.00,143.85" fill="#2c708e" stroke="#2c708e"/>
<polygon points="301.58,145.97 301.58,150.23 298.39,152.35 295.20,150.23 295.20,145.97 298.39,143.85" fill="#24848d" stroke="#24848d"/>
<polygon points="307.97,145.97 307.97,150.23 304.78,152.35 301.58,150.23 301.58,145.97 304.78,143.85" fill="#1e998a" stroke="#1e998a"/>
<polygon points="314.36,145.97 314.36,150.23 311.16,152.35 307.97,150.23 307.97,145.97 311.16,143.85" fill="#24848d" stroke="#24848d"/>
<polygon points="320.74,145.97 320.74,150.23 317.55,152.35 314.36,150.23 314.36,145.97 317.55,143.85" fill="#1e998a" stroke="#1e998a"/>
<polygon points="327.13,145.97 327.13,150.23 323.94,152.35 320.74,150.23 320.74,145.97 323.94,143.85" fill="#2c708e" stroke="#2c708e"/>
<polygon points="333.52,145.97 333.52,150.23 330.32,152.35 327.13,150.23 327.13,145.97 330.32,143.85" fill="#3c4e8a" stroke="#3c4e8a"/>
<polygon points="339.90,145.97 339.90,150.23 336.71,152.35 333.52,150.23 333.52,145.97 336.71,143.85" fill="#2c708e" stroke="#2c708e"/>
<polygon points="346.29,145.97 346.29,150.23 343.10,152.35 339.91,150.23 339.91,145.97 343.10,143.85" fill="#24848d" stroke="#24848d"/>
<polygon points="352.68,145.97 352.68,150.23 349.49,152.35 346.29,150.23 346.29,145.97 349.49,143.85" fill="#45347f" stroke="#45347f"/>
<polygon points="359.07,145.97 359.07,150.23 355.87,152.35 352.68,150.23 352.68,145.97 355.87,143.85" fill="#45347f" stroke="#45347f"/>
<polygon points="365.45,145.97 365.45,150.23 362.26,152.35 359.07,150.23 359.07,145.97 362.26,143.85" fill="#440154" stroke="#440154"/>
<polygon points="371.84,145.97 371.84,150.23 368.65,152.35 365.45,150.23 365.45,145.97 368.65,143.85" fill="#440154" stroke="#440154"/>
<polygon points="205.78,158.73 205.78,162.99 202.58,165.11 199.39,162.99 199.39,158.73 202.58,156.61" fill="#440154" stroke="#440154"/>
<polygon points="224.94,158.73 224.94,162.99 221.75,165.11 218.55,162.99 218.55,158.73 221.75,156.61" fill="#440154" stroke="#440154"/>
<polygon points="237.71,158.73 237.71,162.99 234.52,165.11 231.33,162.99 231.33,158.73 234.52,156.61" fill="#440154" stroke="#440154"/>
<polygon points="244.10,158.73 244.10,162.99 240.91,165.11 237.71,162.99 237.71,158.73 240.91,156.61" fill="#440154" stroke="#440154"/>
<polygon points="256.87,158.73 256.87,162.99 253.68,165.11 250.49,162.99 250.49,158.73 253.68,156.61" fill="#3c4e8a" stroke="#3c4e8a"/>
<polygon points="269.65,158.73 269.65,162.99 266.45,165.11 263.26,162.99 263.26,158.73 266.45,156.61" fill="#2c708e" stroke="#2c708e"/>
<polygon points="276.03,158.73 276.03,162.99 272.84,165.11 269.65,162.99 269.65,158.73 272.84,156.61" fill="#2c708e" stroke="#2c708e"/>
<polygon points="282.42,158.73 282.42,162.99 279.23,165.11 276.04,162.99 276.04,158.73 279.23,156.61" fill="#45347f" stroke="#45347f"/>
<polygon points="288.81,158.73 288.81,162.99 285.62,165.11 282.42,162.99 282.42,158.73 285.62,156.61" fill="#24848d" stroke="#24848d"/>
<polygon points="295.20,158.73 295.20,162.99 292.00,165.11 288.81,162.99 288.81,158.73 292.00,156.61" fill="#24848d" stroke="#24848d"/>
<polygon points="301.58,158.73 301.58,162.99 298.39,165.11 295.20,162.99 295.20,158.73 298.39,156.61" fill="#1e998a" stroke="#1e998a"/>
<polygon points="307.97,158.73 307.97,162.99 304.78,165.11 301.58,162.99 301.58,158.73 304.78,156.61" fill="#28ae7f" stroke="#28ae7f"/>
<polygon points="314.36,158.73 314.36,162.99 311.16,165.11 307.97,162.99 307.97,158.73 311.16,156.61" fill="#1e998a" stroke="#1e998a"/>
<polygon points="320.74,158.73 320.74,162.99 317.55,165.11 314.36,162.99 314.36,158.73 317.55,156.61" fill="#24848d" stroke="#24848d"/>
<polygon points="327.13,158.73 327.13,162.99 323.94,165.11 320.74,162.99 320.74,158.73 323.94,156.61" fill="#3c4e8a" stroke="#3c4e8a"/>
<polygon points="333.52,158.73 333.52,162.99 330.32,165.11 327.13,162.99 327.13,158.73 330.32,156.61" fill="#3c4e8a" stroke="#3c4e8a"/>
<polygon points="339.90,158.73 339.90,162.99 336.71,165.11 333.52,162.99 333.52,158.73 336.71,156.61" fill="#45347f" stroke="#45347f"/>
<polygon points="346.29,158.73 346.29,162.99 343.10,165.11 339.91,162.99 339.91,158.73 343.10,156.61" fill="#440154" stroke="#440154"/>
<polygon points="352.68,158.73 352.68,162.99 349.49,165.11 346.29,162.99 346.29,158.73 349.49,156.61" fill="#440154" stroke="#440154"/>
<polygon points="199.39,171.49 199.39,175.75 196.20,177.87 193.00,175.75 193.00,171.49 196.20,169.37" fill="#440154" stroke="#440154"/>
<polygon points="212.16,171.49 212.16,175.75 208.97,177.87 205.78,175.75 205.78,171.49 208.97,169.37" fill="#440154" stroke="#440154"/>
<polygon points="218.55,171.49 218.55,175.75 215.36,177.87 212.16,175.75 212.16,171.49 215.36,169.37" fill="#440154" stroke="#440154"/>
<polygon points="224.94,171.49 224.94,175.75 221.75,177.87 218.55,175.75 218.55,171.49 221.75,169.37" fill="#45347f" stroke="#45347f"/>
<polygon points="231.33,171.49 231.33,175.75 228.13,177.87 224.94,175.75 224.94,171.49 228.13,169.37" fill="#440154" stroke="#440154"/>
<polygon points="237.71,171.49 237.71,175.75 234.52,177.87 231.33,175.75 231.33,171.49 234.52,169.37" fill="#45347f" stroke="#45347f"/>
<polygon points="244.10,171.49 244.10,175.75 240.91,177.87 237.71,175.75 237.71,171.49 240.91,169.37" fill="#3c4e8a" stroke="#3c4e8a"/>
<polygon points="250.49,171.49 250.49,175.75 247.29,177.87 244.10,175.75 244.10,171.49 247.29,169.37" fill="#45347f" stroke="#45347f"/>
<polygon points="256.87,171.49 256.87,175.75 253.68,177.87 250.49,175.75 250.49,171.49 253.68,169.37" fill="#2c708e" stroke="#2c708e"/>
<polygon points="263.26,171.49 263.26,175.75 260.07,177.87 256.87,175.75 256.87,171.49 260.07,169.37" fill="#24848d" stroke="#24848d"/>
<polygon points="269.65,171.49 269.65,175.75 266.45,177.87 263.26,175.75 263.26,171.49 266.45,169.37" fill="#2c708e" stroke="#2c708e"/>
<polygon points="276.03,171.49 276.03,175.75 272.84,177.87 269.65,175.75 269.65,171.49 272.84,169.37" fill="#24848d" stroke="#24848d"/>
<polygon points="282.42,171.49 282.42,175.75 279.23,177.87 276.04,175.75 276.04,171.49 279.23,169.37" fill="#1e998a" stroke="#1e998a"/>
<polygon points="288.81,171.49 288.81,175.75 285.62,177.87 282.42,175.75 282.42,171.49 285.62,169.37" fill="#28ae7f" stroke="#28ae7f"/>
<polygon points="295.20,171.49 295.20,175.75 292.00,177.87 288.81,175.75 288.81,171.49 292.00,169.37" fill="#28ae7f" stroke="#28ae7f"/>
<polygon points="301.58,171.49 301.58,175.75 298.39,177.87 295.20,175.75 295.20,171.49 298.39,169.37" fill="#1e998a" stroke="#1e998a"/>
<polygon points="307.97,171.49 307.97,175.75 304.78,177.87 301.58,175.75 301.58,171.49 304.78,169.37" fill="#24848d" stroke="#24848d"/>
<polygon points="314.36,171.49 314.36,175.75 311.16,177.87 307.97,175.75 307.97,171.49 311.16,169.37" fill="#24848d" stroke="#24848d"/>
<polygon points="320.74,171.49 320.74,175.75 317.55,177.87 314.36,175.75 314.36,171.49 317.55,169.37" fill="#2c708e" stroke="#2c708e"/>
<polygon points="327.13,171.49 327.13,175.75 323.94,177.87 320.74,175.75 320.74,171.49 323.94,169.37" fill="#3c4e8a" stroke="#3c4e8a"/>
<polygon points="333.52,171.49 333.52,175.75 330.32,177.87 327.13,175.75 327.13,171.49 330.32,169.37" fill="#345f8d" stroke="#345f8d"/>
<polygon points="339.90,171.49 339.90,175.75 336.71,177.87 333.52,175.75 333.52,171.49 336.71,169.37" fill="#45347f" stroke="#45347f"/>
<polygon points="346.29,171.49 346.29,175.75 343.10,177.87 339.91,175.75 339.91,171.49 343.10,169.37" fill="#2c708e" stroke="#2c708e"/>
<polygon points="359.07,171.49 359.07,175.75 355.87,177.87 352.68,175.75 352.68,171.49 355.87,169.37" fill="#440154" stroke="#440154"/>
<polygon points="218.55,184.25 218.55,188.51 215.36,190.63 212.16,188.51 212.16,184.25 215.36,182.13" fill="#440154" stroke="#440154"/>
<polygon points="224.94,184.25 224.94,188.51 221.75,190.63 218.55,188.51 218.55,184.25 221.75,182.13" fill="#440154" stroke="#440154"/>
<polygon points="231.33,184.25 231.33,188.51 228.13,190.63 224.94,188.51 224.94,184.25 228.13,182.13" fill="#45347f" stroke="#45347f"/>
<polygon points="237.71,184.25 237.71,188.51 234.52,190.63 231.33,188.51 231.33,184.25 234.52,182.13" fill="#345f8d" stroke="#345f8d"/>
<polygon points="244.10,184.25 244.10,188.51 240.91,190.63 237.71,188.51 237.71,184.25 240.91,182.13" fill="#3c4e8a" stroke="#3c4e8a"/>
<polygon points="250.49,184.25 250.49,188.51 247.29,190.63 244.10,188.51 244.10,184.25 247.29,182.13" fill="#440154" stroke="#440154"/>
<polygon points="256.87,184.25 256.87,188.51 253.68,190.63 250.49,188.51 250.49,184.25 253.68,182.13" fill="#24848d" stroke="#24848d"/>
<polygon points="263.26,184.25 263.26,188.51 260.07,190.63 256.87,188.51 256.87,184.25 260.07,182.13" fill="#1e998a" stroke="#1e998a"/>
<polygon points="269.65,184.25 269.65,188.51 266.45,190.63 263.26,188.51 263.26,184.25 266.45,182.13" fill="#24848d" stroke="#24848d"/>
<polygon points="276.03,184.25 276.03,188.51 272.84,190.63 269.65,188.51 269.65,184.25 272.84,182.13" fill="#1e998a" stroke="#1e998a"/>
<polygon points="282.42,184.25 282.42,188.51 279.23,190.63 276.04,188.51 276.04,184.25 279.23,182.13" fill="#1e998a" stroke="#1e998a"/>
<polygon points="288.81,184.25 288.81,188.51 285.62,190.63 282.42,188.51 282.42,184.25 285.62,182.13" fill="#1e998a" stroke="#1e998a"/>
<polygon points="295.20,184.25 295.20,188.51 292.00,190.63 288.81,188.51 288.81,184.25 292.00,182.13" fill="#24848d" stroke="#24848d"/>
<polygon points="301.58,184.25 301.58,188.51 298.39,190.63 295.20,188.51 295.20,184.25 298.39,182.13" fill="#24848d" stroke="#24848d"/>
<polygon points="307.97,184.25 307.97,188.51 304.78,190.63 301.58,188.51 301.58,184.25 304.78,182.13" fill="#345f8d" stroke="#345f8d"/>
<polygon points="314.36,184.25 314.36,188.51 311.16,190.63 307.97,188.51 307.97,184.25 311.16,182.13" fill="#345f8d" stroke="#345f8d"/>
<polygon points="320.74,184.25 320.74,188.51 317.55,190.63 314.36,188.51 314.36,184.25 317.55,182.13" fill="#3c4e8a" stroke="#3c4e8a"/>
<polygon points="327.13,184.25 327.13,188.51 323.94,190.63 320.74,188.51 320.74,184.25 323.94,182.13" fill="#3c4e8a" stroke="#3c4e8a"/>
<polygon points="333.52,184.25 333.52,188.51 330.32,190.63 327.13,188.51 327.13,184.25 330.32,182.13" fill="#440154" stroke="#440154"/>
<polygon points="339.90,184.25 339.90,188.51 336.71,190.63 333.52,188.51 333.52,184.25 336.71,182.13" fill="#440154" stroke="#440154"/>
<polygon points="352.68,184.25 352.68,188.51 349.49,190.63 346.29,188.51 346.29,184.25 349.49,182.13" fill="#440154" stroke="#440154"/>
<polygon points="365.45,184.25 365.45,188.51 362.26,190.63 359.07,188.51 359.07,184.25 362.26,182.13" fill="#45347f" stroke="#45347f"/>
<polygon points="193.00,197.01 193.00,201.27 189.81,203.39 186.62,201.27 186.62,197.01 189.81,194.89" fill="#440154" stroke="#440154"/>
<polygon points="212.16,197.01 212.16,201.27 208.97,203.39 205.78,201.27 205.78,197.01 208.97,194.89" fill="#440154" stroke="#440154"/>
<polygon points="224.94,197.01 224.94,201.27 221.75,203.39 218.55,201.27 218.55,197.01 221.75,194.89" fill="#2c708e" stroke="#2c708e"/>
<polygon points="231.33,197.01 231.33,201.27 228.13,203.39 224.94,201.27 224.94,197.01 228.13,194.89" fill="#440154" stroke="#440154"/>
<polygon points="237.71,197.01 237.71,201.27 234.52,203.39 231.33,201.27 231.33,197.01 234.52,194.89" fill="#2c708e" stroke="#2c708e"/>
<polygon points="244.10,197.01 244.10,201.27 240.91,203.39 237.71,201.27 237.71,197.01 240.91,194.89" fill="#2c708e" stroke="#2c708e"/>
<polygon points="250.49,197.01 250.49,201.27 247.29,203.39 244.10,201.27 244.10,197.01 247.29,194.89" fill="#1e998a" stroke="#1e998a"/>
<polygon points="256.87,197.01 256.87,201.27 253.68,203.39 250.49,201.27 250.49,197.01 253.68,194.89" fill="#1e998a" stroke="#1e998a"/>
<polygon points="263.26,197.01 263.26,201.27 260.07,203.39 256.87,201.27 256.87,197.01 260.07,194.89" fill="#28ae7f" stroke="#28ae7f"/>
<polygon points="269.65,197.01 269.65,201.27 266.45,203.39 263.26,201.27 263.26,197.01 266.45,194.89" fill="#28ae7f" stroke="#28ae7f"/>
<polygon points="276.03,197.01 276.03,201.27 272.84,203.39 269.65,201.27 269.65,197.01 272.84,194.89" fill="#1e998a" stroke="#1e998a"/>
<polygon points="282.42,197.01 282.42,201.27 279.23,203.39 276.04,201.27 276.04,197.01 279.23,194.89" fill="#28ae7f" stroke="#28ae7f"/>
<polygon points="288.81,197.01 288.81,201.27 285.62,203.39 282.42,201.27 282.42,197.01 285.62,194.89" fill="#24848d" stroke="#24848d"/>
<polygon points="295.20,197.01 295.20,201.27 292.00,203.39 288.81,201.27 288.81,197.01 292.00,194.89" fill="#2c708e" stroke="#2c708e"/>
<polygon points="301.58,197.01 301.58,201.27 298.39,203.39 295.20,201.27 295.20,197.01 298.39,194.89" fill="#345f8d" stroke="#345f8d"/>
<polygon points="307.97,197.01 307.97,201.27 304.78,203.39 301.58,201.27 301.58,197.01 304.78,194.89" fill="#2c708e" stroke="#2c708e"/>
<polygon points="314.36,197.01 314.36,201.27 311.16,203.39 307.97,201.27 307.97,197.01 311.16,194.89" fill="#45347f" stroke="#45347f"/>
<polygon points="320.74,197.01 320.74,201.27 317.55,203.39 314.36,201.27 314.36,197.01 317.55,194.89" fill="#45347f" stroke="#45347f"/>
<polygon points="327.13,197.01 327.13,201.27 323.94,203.39 320.74,201.27 320.74,197.01 323.94,194.89" fill="#440154" stroke="#440154"/>
<polygon points="346.29,197.01 346.29,201.27 343.10,203.39 339.91,201.27 339.91,197.01 343.10,194.89" fill="#440154" stroke="#440154"/>
<polygon points="186.62,209.77 186.62,214.03 183.42,216.15 180.23,214.03 180.23,209.77 183.42,207.65" fill="#440154" stroke="#440154"/>
<polygon points="193.00,209.77 193.00,214.03 189.81,216.15 186.62,214.03 186.62,209.77 189.81,207.65" fill="#440154" stroke="#440154"/>
<polygon points="199.39,209.77 199.39,214.03 196.20,216.15 193.00,214.03 193.00,209.77 196.20,207.65" fill="#440154" stroke="#440154"/>
<polygon points="218.55,209.77 218.55,214.03 215.36,216.15 212.16,214.03 212.16,209.77 215.36,207.65" fill="#2c708e" stroke="#2c708e"/>
<polygon points="224.94,209.77 224.94,214.03 221.75,216.15 218.55,214.03 218.55,209.77 221.75,207.65" fill="#2c708e" stroke="#2c708e"/>
<polygon points="231.33,209.77 231.33,214.03 228.13,216.15 224.94,214.03 224.94,209.77 228.13,207.65" fill="#24848d" stroke="#24848d"/>
<polygon points="237.71,209.77 237.71,214.03 234.52,216.15 231.33,214.03 231.33,209.77 234.52,207.65" fill="#1e998a" stroke="#1e998a"/>
<polygon points="244.10,209.77 244.10,214.03 240.91,216.15 237.71,214.03 237.71,209.77 240.91,207.65" fill="#1e998a" stroke="#1e998a"/>
<polygon points="250.49,209.77 250.49,214.03 247.29,216.15 244.10,214.03 244.10,209.77 247.29,207.65" fill="#28ae7f" stroke="#28ae7f"/>
<polygon points="256.87,209.77 256.87,214.03 253.68,216.15 250.49,214.03 250.49,209.77 253.68,207.65" fill="#4fc369" stroke="#4fc369"/>
<polygon points="263.26,209.77 263.26,214.03 260.07,216.15 256.87,214.03 256.87,209.77 260.07,207.65" fill="#28ae7f" stroke="#28ae7f"/>
<polygon points="269.65,209.77 269.65,214.03 266.45,216.15 263.26,214.03 263.26,209.77 266.45,207.65" fill="#1e998a" stroke="#1e998a"/>
<polygon points="276.03,209.77 276.03,214.03 272.84,216.15 269.65,214.03 269.65,209.77 272.84,207.65" fill="#1e998a" stroke="#1e998a"/>
<polygon points="282.42,209.77 282.42,214.03 279.23,216.15 276.04,214.03 276.04,209.77 279.23,207.65" fill="#24848d" stroke="#24848d"/>
<polygon points="288.81,209.77 288.81,214.03 285.62,216.15 282.42,214.03 282.42,209.77 285.62,207.65" fill="#24848d" stroke="#24848d"/>
<polygon points="295.20,209.77 295.20,214.03 292.00,216.15 288.81,214.03 288.81,209.77 292.00,207.65" fill="#45347f" stroke="#45347f"/>
<polygon points="301.58,209.77 301.58,214.03 298.39,216.15 295.20,214.03 295.20,209.77 298.39,207.65" fill="#3c4e8a" stroke="#3c4e8a"/>
<polygon points="307.97,209.77 307.97,214.03 304.78,216.15 301.58,214.03 301.58,209.77 304.78,207.65" fill="#3c4e8a" stroke="#3c4e8a"/>
<polygon points="327.13,209.77 327.13,214.03 323.94,216.15 320.74,214.03 320.74,209.77 323.94,207.65" fill="#45347f" stroke="#45347f"/>
<polygon points="193.00,222.53 193.00,226.79 189.81,228.91 186.62,226.79 186.62,222.53 189.81,220.41" fill="#440154" stroke="#440154"/>
<polygon points="205.78,222.53 205.78,226.79 202.58,228.91 199.39,226.79 199.39,222.53 202.58,220.41" fill="#45347f" stroke="#45347f"/>
<polygon points="212.16,222.53 212.16,226.79 208.97,228.91 205.78,226.79 205.78,222.53 208.97,220.41" fill="#2c708e" stroke="#2c708e"/>
<polygon points="218.55,222.53 218.55,226.79 215.36,228.91 212.16,226.79 212.16,222.53 215.36,220.41" fill="#2c708e" stroke="#2c708e"/>
<polygon points="224.94,222.53 224.94,226.79 221.75,228.91 218.55,226.79 218.55,222.53 221.75,220.41" fill="#24848d" stroke="#24848d"/>
<polygon points="231.33,222.53 231.33,226.79 228.13,228.91 224.94,226.79 224.94,222.53 228.13,220.41" fill="#24848d" stroke="#24848d"/>
<polygon points="237.71,222.53 237.71,226.79 234.52,228.91 231.33,226.79 231.33,222.53 234.52,220.41" fill="#28ae7f" stroke="#28ae7f"/>
<polygon points="244.10,222.53 244.10,226.79 240.91,228.91 237.71,226.79 237.71,222.53 240.91,220.41" fill="#28ae7f" stroke="#28ae7f"/>
<polygon points="250.49,222.53 250.49,226.79 247.29,228.91 244.10,226.79 244.10,222.53 247.29,220.41" fill="#28ae7f" stroke="#28ae7f"/>
<polygon points="256.87,222.53 256.87,226.79 253.68,228.91 250.49,226.79 250.49,222.53 253.68,220.41" fill="#1e998a" stroke="#1e998a"/>
<polygon points="263.26,222.53 263.26,226.79 260.07,228.91 256.87,226.79 256.87,222.53 260.07,220.41" fill="#1e998a" stroke="#1e998a"/>
<polygon points="269.65,222.53 269.65,226.79 266.45,228.91 263.26,226.79 263.26,222.53 266.45,220.41" fill="#2c708e" stroke="#2c708e"/>
<polygon points="276.03,222.53 276.03,226.79 272.84,228.91 269.65,226.79 269.65,222.53 272.84,220.41" fill="#2c708e" stroke="#2c708e"/>
<polygon points="282.42,222.53 282.42,226.79 279.23,228.91 276.04,226.79 276.04,222.53 279.23,220.41" fill="#2c708e" stroke="#2c708e"/>
<polygon points="288.81,222.53 288.81,226.79 285.62,228.91 282.42,226.79 282.42,222.53 285.62,220.41" fill="#2c708e" stroke="#2c708e"/>
<polygon points="295.20,222.53 295.20,226.79 292.00,228.91 288.81,226.79 288.81,222.53 292.00,220.41" fill="#2c708e" stroke="#2c708e"/>
<polygon points="301.58,222.53 301.58,226.79 298.39,228.91 295.20,226.79 295.20,222.53 298.39,220.41" fill="#45347f" stroke="#45347f"/>
<polygon points="314.36,222.53 314.36,226.79 311.16,228.91 307.97,226.79 307.97,222.53 311.16,220.41" fill="#440154" stroke="#440154"/>
<polygon points="365.45,222.53 365.45,226.79 362.26,228.91 359.07,226.79 359.07,222.53 362.26,220.41" fill="#440154" stroke="#440154"/>
<polygon points="193.00,235.29 193.00,239.55 189.81,241.67 186.62,239.55 186.62,235.29 189.81,233.17" fill="#440154" stroke="#440154"/>
<polygon points="199.39,235.29 199.39,239.55 196.20,241.67 193.00,239.55 193.00,235.29 196.20,233.17" fill="#2c708e" stroke="#2c708e"/>
<polygon points="205.78,235.29 205.78,239.55 202.58,241.67 199.39,239.55 199.39,235.29 202.58,233.17" fill="#24848d" stroke="#24848d"/>
<polygon points="212.16,235.29 212.16,239.55 208.97,241.67 205.78,239.55 205.78,235.29 208.97,233.17" fill="#1e998a" stroke="#1e998a"/>
<polygon points="218.55,235.29 218.55,239.55 215.36,241.67 212.16,239.55 212.16,235.29 215.36,233.17" fill="#1e998a" stroke="#1e998a"/>
<polygon points="224.94,235.29 224.94,239.55 221.75,241.67 218.55,239.55 218.55,235.29 221.75,233.17" fill="#4fc369" stroke="#4fc369"/>
<polygon points="231.33,235.29 231.33,239.55 228.13,241.67 224.94,239.55 224.94,235.29 228.13,233.17" fill="#4fc369" stroke="#4fc369"/>
<polygon points="237.71,235.29 237.71,239.55 234.52,241.67 231.33,239.55 231.33,235.29 234.52,233.17" fill="#28ae7f" stroke="#28ae7f"/>
<polygon points="244.10,235.29 244.10,239.55 240.91,241.67 237.71,239.55 237.71,235.29 240.91,233.17" fill="#28ae7f" stroke="#28ae7f"/>
<polygon points="250.49,235.29 250.49,239.55 247.29,241.67 244.10,239.55 244.10,235.29 247.29,233.17" fill="#1e998a" stroke="#1e998a"/>
<polygon points="256.87,235.29 256.87,239.55 253.68,241.67 250.49,239.55 250.49,235.29 253.68,233.17" fill="#24848d" stroke="#24848d"/>
<polygon points="263.26,235.29 263.26,239.55 260.07,241.67 256.87,239.55 256.87,235.29 260.07,233.17" fill="#2c708e" stroke="#2c708e"/>
<polygon points="269.65,235.29 269.65,239.55 266.45,241.67 263.26,239.55 263.26,235.29 266.45,233.17" fill="#45347f" stroke="#45347f"/>
<polygon points="276.03,235.29 276.03,239.55 272.84,241.67 269.65,239.55 269.65,235.29 272.84,233.17" fill="#2c708e" stroke="#2c708e"/>
<polygon points="282.42,235.29 282.42,239.55 279.23,241.67 276.04,239.55 276.04,235.29 279.23,233.17" fill="#345f8d" stroke="#345f8d"/>
<polygon points="288.81,235.29 288.81,239.55 285.62,241.67 282.42,239.55 282.42,235.29 285.62,233.17" fill="#2c708e" stroke="#2c708e"/>
<polygon points="295.20,235.29 295.20,239.55 292.00,241.67 288.81,239.55 288.81,235.29 292.00,233.17" fill="#45347f" stroke="#45347f"/>
<polygon points="186.62,248.05 186.62,252.31 183.42,254.43 180.23,252.31 180.23,248.05 183.42,245.93" fill="#440154" stroke="#440154"/>
<polygon points="193.00,248.05 193.00,252.31 189.81,254.43 186.62,252.31 186.62,248.05 189.81,245.93" fill="#345f8d" stroke="#345f8d"/>
<polygon points="199.39,248.05 199.39,252.31 196.20,254.43 193.00,252.31 193.00,248.05 196.20,245.93" fill="#345f8d" stroke="#345f8d"/>
<polygon points="205.78,248.05 205.78,252.31 202.58,254.43 199.39,252.31 199.39,248.05 202.58,245.93" fill="#1e998a" stroke="#1e998a"/>
<polygon points="212.16,248.05 212.16,252.31 208.97,254.43 205.78,252.31 205.78,248.05 208.97,245.93" fill="#28ae7f" stroke="#28ae7f"/>
<polygon points="218.55,248.05 218.55,252.31 215.36,254.43 212.16,252.31 212.16,248.05 215.36,245.93" fill="#28ae7f" stroke="#28ae7f"/>
<polygon points="224.94,248.05 224.94,252.31 221.75,254.43 218.55,252.31 218.55,248.05 221.75,245.93" fill="#4fc369" stroke="#4fc369"/>
<polygon points="231.33,248.05 231.33,252.31 228.13,254.43 224.94,252.31 224.94,248.05 228.13,245.93" fill="#28ae7f" stroke="#28ae7f"/>
<polygon points="237.71,248.05 237.71,252.31 234.52,254.43 231.33,252.31 231.33,248.05 234.52,245.93" fill="#1e998a" stroke="#1e998a"/>
<polygon points="244.10,248.05 244.10,252.31 240.91,254.43 237.71,252.31 237.71,248.05 240.91,245.93" fill="#28ae7f" stroke="#28ae7f"/>
<polygon points="250.49,248.05 250.49,252.31 247.29,254.43 244.10,252.31 244.10,248.05 247.29,245.93" fill="#24848d" stroke="#24848d"/>
<polygon points="256.87,248.05 256.87,252.31 253.68,254.43 250.49,252.31 250.49,248.05 253.68,245.93" fill="#24848d" stroke="#24848d"/>
<polygon points="263.26,248.05 263.26,252.31 260.07,254.43 256.87,252.31 256.87,248.05 260.07,245.93" fill="#345f8d" stroke="#345f8d"/>
<polygon points="269.65,248.05 269.65,252.31 266.45,254.43 263.26,252.31 263.26,248.05 266.45,245.93" fill="#2c708e" stroke="#2c708e"/>
<polygon points="276.03,248.05 276.03,252.31 272.84,254.43 269.65,252.31 269.65,248.05 272.84,245.93" fill="#2c708e" stroke="#2c708e"/>
<polygon points="282.42,248.05 282.42,252.31 279.23,254.43 276.04,252.31 276.04,248.05 279.23,245.93" fill="#45347f" stroke="#45347f"/>
<polygon points="288.81,248.05 288.81,252.31 285.62,254.43 282.42,252.31 282.42,248.05 285.62,245.93" fill="#440154" stroke="#440154"/>
<polygon points="295.20,248.05 295.20,252.31 292.00,254.43 288.81,252.31 288.81,248.05 292.00,245.93" fill="#45347f" stroke="#45347f"/>
<polygon points="301.58,248.05 301.58,252.31 298.39,254.43 295.20,252.31 295.20,248.05 298.39,245.93" fill="#440154" stroke="#440154"/>
<polygon points="339.90,248.05 339.90,252.31 336.71,254.43 333.52,252.31 333.52,248.05 336.71,245.93" fill="#440154" stroke="#440154"/>
<polygon points="173.84,260.81 173.84,265.07 170.65,267.19 167.46,265.07 167.46,260.81 170.65,258.69" fill="#440154" stroke="#440154"/>
<polygon points="180.23,260.81 180.23,265.07 177.04,267.19 173.84,265.07 173.84,260.81 177.04,258.69" fill="#440154" stroke="#440154"/>
<polygon points="186.62,260.81 186.62,265.07 183.42,267.19 180.23,265.07 180.23,260.81 183.42,258.69" fill="#2c708e" stroke="#2c708e"/>
<polygon points="193.00,260.81 193.00,265.07 189.81,267.19 186.62,265.07 186.62,260.81 189.81,258.69" fill="#2c708e" stroke="#2c708e"/>
<polygon points="199.39,260.81 199.39,265.07 196.20,267.19 193.00,265.07 193.00,260.81 196.20,258.69" fill="#1e998a" stroke="#1e998a"/>
<polygon points="205.78,260.81 205.78,265.07 202.58,267.19 199.39,265.07 199.39,260.81 202.58,258.69" fill="#1e998a" stroke="#1e998a"/>
<polygon points="212.16,260.81 212.16,265.07 208.97,267.19 205.78,265.07 205.78,260.81 208.97,258.69" fill="#8bd546" stroke="#8bd546"/>
<polygon points="218.55,260.81 218.55,265.07 215.36,267.19 212.16,265.07 212.16,260.81 215.36,258.69" fill="#4fc369" stroke="#4fc369"/>
<polygon points="224.94,260.81 224.94,265.07 221.75,267.19 218.55,265.07 218.55,260.81 221.75,258.69" fill="#4fc369" stroke="#4fc369"/>
<polygon points="231.33,260.81 231.33,265.07 228.13,267.19 224.94,265.07 224.94,260.81 228.13,258.69" fill="#4fc369" stroke="#4fc369"/>
<polygon points="237.71,260.81 237.71,265.07 234.52,267.19 231.33,265.07 231.33,260.81 234.52,258.69" fill="#1e998a" stroke="#1e998a"/>
<polygon points="244.10,260.81 244.10,265.07 240.91,267.19 237.71,265.07 237.71,260.81 240.91,258.69" fill="#24848d" stroke="#24848d"/>
<polygon points="250.49,260.81 250.49,265.07 247.29,267.19 244.10,265.07 244.10,260.81 247.29,258.69" fill="#24848d" stroke="#24848d"/>
<polygon points="256.87,260.81 256.87,265.07 253.68,267.19 250.49,265.07 250.49,260.81 253.68,258.69" fill="#2c708e" stroke="#2c708e"/>
<polygon points="263.26,260.81 263.26,265.07 260.07,267.19 256.87,265.07 256.87,260.81 260.07,258.69" fill="#45347f" stroke="#45347f"/>
<polygon points="269.65,260.81 269.65,265.07 266.45,267.19 263.26,265.07 263.26,260.81 266.45,258.69" fill="#2c708e" stroke="#2c708e"/>
<polygon points="276.03,260.81 276.03,265.07 272.84,267.19 269.65,265.07 269.65,260.81 272.84,258.69" fill="#45347f" stroke="#45347f"/>
<polygon points="282.42,260.81 282.42,265.07 279.23,267.19 276.04,265.07 276.04,260.81 279.23,258.69" fill="#440154" stroke="#440154"/>
<polygon points="288.81,260.81 288.81,265.07 285.62,267.19 282.42,265.07 282.42,260.81 285.62,258.69" fill="#440154" stroke="#440154"/>
<polygon points="301.58,260.81 301.58,265.07 298.39,267.19 295.20,265.07 295.20,260.81 298.39,258.69" fill="#440154" stroke="#440154"/>
<polygon points="173.84,273.57 173.84,277.83 170.65,279.95 167.46,277.83 167.46,273.57 170.65,271.45" fill="#440154" stroke="#440154"/>
<polygon points="180.23,273.57 180.23,277.83 177.04,279.95 173.84,277.83 173.84,273.57 177.04,271.45" fill="#3c4e8a" stroke="#3c4e8a"/>
<polygon points="186.62,273.57 186.62,277.83 183.42,279.95 180.23,277.83 180.23,273.57 183.42,271.45" fill="#24848d" stroke="#24848d"/>
<polygon points="193.00,273.57 193.00,277.83 189.81,279.95 186.62,277.83 186.62,273.57 189.81,271.45" fill="#28ae7f" stroke="#28ae7f"/>
<polygon points="199.39,273.57 199.39,277.83 196.20,279.95 193.00,277.83 193.00,273.57 196.20,271.45" fill="#8bd546" stroke="#8bd546"/>
<polygon points="205.78,273.57 205.78,277.83 202.58,279.95 199.39,277.83 199.39,273.57 202.58,271.45" fill="#4fc369" stroke="#4fc369"/>
<polygon points="212.16,273.57 212.16,277.83 208.97,279.95 205.78,277.83 205.78,273.57 208.97,271.45" fill="#8bd546" stroke="#8bd546"/>
<polygon points="218.55,273.57 218.55,277.83 215.36,279.95 212.16,277.83 212.16,273.57 215.36,271.45" fill="#8bd546" stroke="#8bd546"/>
<polygon points="224.94,273.57 224.94,277.83 221.75,279.95 218.55,277.83 218.55,273.57 221.75,271.45" fill="#28ae7f" stroke="#28ae7f"/>
<polygon points="231.33,273.57 231.33,277.83 228.13,279.95 224.94,277.83 224.94,273.57 228.13,271.45" fill="#1e998a" stroke="#1e998a"/>
<polygon points="237.71,273.57 237.71,277.83 234.52,279.95 231.33,277.83 231.33,273.57 234.52,271.45" fill="#24848d" stroke="#24848d"/>
<polygon points="244.10,273.57 244.10,277.83 240.91,279.95 237.71,277.83 237.71,273.57 240.91,271.45" fill="#2c708e" stroke="#2c708e"/>
<polygon points="250.49,273.57 250.49,277.83 247.29,279.95 244.10,277.83 244.10,273.57 247.29,271.45" fill="#345f8d" stroke="#345f8d"/>
<polygon points="256.87,273.57 256.87,277.83 253.68,279.95 250.49,277.83 250.49,273.57 253.68,271.45" fill="#345f8d" stroke="#345f8d"/>
<polygon points="263.26,273.57 263.26,277.83 260.07,279.95 256.87,277.83 256.87,273.57 260.07,271.45" fill="#45347f" stroke="#45347f"/>
<polygon points="269.65,273.57 269.65,277.83 266.45,279.95 263.26,277.83 263.26,273.57 266.45,271.45" fill="#440154" stroke="#440154"/>
<polygon points="276.03,273.57 276.03,277.83 272.84,279.95 269.65,277.83 269.65,273.57 272.84,271.45" fill="#440154" stroke="#440154"/>
<polygon points="320.74,273.57 320.74,277.83 317.55,279.95 314.36,277.83 314.36,273.57 317.55,271.45" fill="#440154" stroke="#440154"/>
<polygon points="173.84,286.33 173.84,290.59 170.65,292.71 167.46,290.59 167.46,286.33 170.65,284.21" fill="#345f8d" stroke="#345f8d"/>
<polygon points="180.23,286.33 180.23,290.59 177.04,292.71 173.84,290.59 173.84,286.33 177.04,284.21" fill="#1e998a" stroke="#1e998a"/>
<polygon points="186.62,286.33 186.62,290.59 183.42,292.71 180.23,290.59 180.23,286.33 183.42,284.21" fill="#4fc369" stroke="#4fc369"/>
<polygon points="193.00,286.33 193.00,290.59 189.81,292.71 186.62,290.59 186.62,286.33 189.81,284.21" fill="#c7e01f" stroke="#c7e01f"/>
<polygon points="199.39,286.33 199.39,290.59 196.20,292.71 193.00,290.59 193.00,286.33 196.20,284.21" fill="#c7e01f" stroke="#c7e01f"/>
<polygon points="205.78,286.33 205.78,290.59 202.58,292.71 199.39,290.59 199.39,286.33 202.58,284.21" fill="#8bd546" stroke="#8bd546"/>
<polygon points="212.16,286.33 212.16,290.59 208.97,292.71 205.78,290.59 205.78,286.33 208.97,284.21" fill="#28ae7f" stroke="#28ae7f"/>
<polygon points="218.55,286.33 218.55,290.59 215.36,292.71 212.16,290.59 212.16,286.33 215.36,284.21" fill="#28ae7f" stroke="#28ae7f"/>
<polygon points="224.94,286.33 224.94,290.59 221.75,292.71 218.55,290.59 218.55,286.33 221.75,284.21" fill="#1e998a" stroke="#1e998a"/>
<polygon points="231.33,286.33 231.33,290.59 228.13,292.71 224.94,290.59 224.94,286.33 228.13,284.21" fill="#24848d" stroke="#24848d"/>
<polygon points="237.71,286.33 237.71,290.59 234.52,292.71 231.33,290.59 231.33,286.33 234.52,284.21" fill="#2c708e" stroke="#2c708e"/>
<polygon points="244.10,286.33 244.10,290.59 240.91,292.71 237.71,290.59 237.71,286.33 240.91,284.21" fill="#3c4e8a" stroke="#3c4e8a"/>
<polygon points="250.49,286.33 250.49,290.59 247.29,292.71 244.10,290.59 244.10,286.33 247.29,284.21" fill="#345f8d" stroke="#345f8d"/>
<polygon points="256.87,286.33 256.87,290.59 253.68,292.71 250.49,290.59 250.49,286.33 253.68,284.21" fill="#45347f" stroke="#45347f"/>
<polygon points="263.26,286.33 263.26,290.59 260.07,292.71 256.87,290.59 256.87,286.33 260.07,284.21" fill="#345f8d" stroke="#345f8d"/>
<polygon points="269.65,286.33 269.65,290.59 266.45,292.71 263.26,290.59 263.26,286.33 266.45,284.21" fill="#440154" stroke="#440154"/>
<polygon points="276.03,286.33 276.03,290.59 272.84,292.71 269.65,290.59 269.65,286.33 272.84,284.21" fill="#45347f" stroke="#45347f"/>
<polygon points="154.68,299.09 154.68,303.35 151.49,305.47 148.29,303.35 148.29,299.09 151.49,296.97" fill="#440154" stroke="#440154"/>
<polygon points="167.46,299.09 167.46,303.35 164.26,305.47 161.07,303.35 161.07,299.09 164.26,296.97" fill="#24848d" stroke="#24848d"/>
<polygon points="173.84,299.09 173.84,303.35 170.65,305.47 167.46,303.35 167.46,299.09 170.65,296.97" fill="#24848d" stroke="#24848d"/>
<polygon points="180.23,299.09 180.23,303.35 177.04,305.47 173.84,303.35 173.84,299.09 177.04,296.97" fill="#8bd546" stroke="#8bd546"/>
<polygon points="186.62,299.09 186.62,303.35 183.42,305.47 180.23,303.35 180.23,299.09 183.42,296.97" fill="#c7e01f" stroke="#c7e01f"/>
<polygon points="193.00,299.09 193.00,303.35 189.81,305.47 186.62,303.35 186.62,299.09 189.81,296.97" fill="#c7e01f" stroke="#c7e01f"/>
<polygon points="199.39,299.09 199.39,303.35 196.20,305.47 193.00,303.35 193.00,299.09 196.20,296.97" fill="#c7e01f" stroke="#c7e01f"/>
<polygon points="205.78,299.09 205.78,303.35 202.58,305.47 199.39,303.35 199.39,299.09 202.58,296.97" fill="#8bd546" stroke="#8bd546"/>
<polygon points="212.16,299.09 212.16,303.35 208.97,305.47 205.78,303.35 205.78,299.09 208.97,296.97" fill="#24848d" stroke="#24848d"/>
<polygon points="218.55,299.09 218.55,303.35 215.36,305.47 212.16,303.35 212.16,299.09 215.36,296.97" fill="#2c708e" stroke="#2c708e"/>
<polygon points="224.94,299.09 224.94,303.35 221.75,305.47 218.55,303.35 218.55,299.09 221.75,296.97" fill="#2c708e" stroke="#2c708e"/>
<polygon points="231.33,299.09 231.33,303.35 228.13,305.47 224.94,303.35 224.94,299.09 228.13,296.97" fill="#24848d" stroke="#24848d"/>
<polygon points="237.71,299.09 237.71,303.35 234.52,305.47 231.33,303.35 231.33,299.09 234.52,296.97" fill="#345f8d" stroke="#345f8d"/>
<polygon points="244.10,299.09 244.10,303.35 240.91,305.47 237.71,303.35 237.71,299.09 240.91,296.97" fill="#45347f" stroke="#45347f"/>
<polygon points="250.49,299.09 250.49,303.35 247.29,305.47 244.10,303.35 244.10,299.09 247.29,296.97" fill="#440154" stroke="#440154"/>
<polygon points="256.87,299.09 256.87,303.35 253.68,305.47 250.49,303.35 250.49,299.09 253.68,296.97" fill="#440154" stroke="#440154"/>
<polygon points="263.26,299.09 263.26,303.35 260.07,305.47 256.87,303.35 256.87,299.09 260.07,296.97" fill="#440154" stroke="#440154"/>
<polygon points="269.65,299.09 269.65,303.35 266.45,305.47 263.26,303.35 263.26,299.09 266.45,296.97" fill="#45347f" stroke="#45347f"/>
<polygon points="288.81,299.09 288.81,303.35 285.62,305.47 282.42,303.35 282.42,299.09 285.62,296.97" fill="#440154" stroke="#440154"/>
<polygon points="154.68,311.85 154.68,316.11 151.49,318.23 148.29,316.11 148.29,311.85 151.49,309.73" fill="#440154" stroke="#440154"/>
<polygon points="161.07,311.85 161.07,316.11 157.88,318.23 154.68,316.11 154.68,311.85 157.88,309.73" fill="#3c4e8a" stroke="#3c4e8a"/>
<polygon points="167.46,311.85 167.46,316.11 164.26,318.23 161.07,316.11 161.07,311.85 164.26,309.73" fill="#1e998a" stroke="#1e998a"/>
<polygon points="173.84,311.85 173.84,316.11 170.65,318.23 167.46,316.11 167.46,311.85 170.65,309.73" fill="#8bd546" stroke="#8bd546"/>
<polygon points="180.23,311.85 180.23,316.11 177.04,318.23 173.84,316.11 173.84,311.85 177.04,309.73" fill="#fde724" stroke="#fde724"/>
<polygon points="186.62,311.85 186.62,316.11 183.42,318.23 180.23,316.11 180.23,311.85 183.42,309.73" fill="#fde724" stroke="#fde724"/>
<polygon points="193.00,311.85 193.00,316.11 189.81,318.23 186.62,316.11 186.62,311.85 189.81,309.73" fill="#fde724" stroke="#fde724"/>
<polygon points="199.39,311.85 199.39,316.11 196.20,318.23 193.00,316.11 193.00,311.85 196.20,309.73" fill="#8bd546" stroke="#8bd546"/>
<polygon points="205.78,311.85 205.78,316.11 202.58,318.23 199.39,316.11 199.39,311.85 202.58,309.73" fill="#28ae7f" stroke="#28ae7f"/>
<polygon points="212.16,311.85 212.16,316.11 208.97,318.23 205.78,316.11 205.78,311.85 208.97,309.73" fill="#2c708e" stroke="#2c708e"/>
<polygon points="218.55,311.85 218.55,316.11 215.36,318.23 212.16,316.11 212.16,311.85 215.36,309.73" fill="#2c708e" stroke="#2c708e"/>
<polygon points="224.94,311.85 224.94,316.11 221.75,318.23 218.55,316.11 218.55,311.85 221.75,309.73" fill="#345f8d" stroke="#345f8d"/>
<polygon points="231.33,311.85 231.33,316.11 228.13,318.23 224.94,316.11 224.94,311.85 228.13,309.73" fill="#3c4e8a" stroke="#3c4e8a"/>
<polygon points="237.71,311.85 237.71,316.11 234.52,318.23 231.33,316.11 231.33,311.85 234.52,309.73" fill="#440154" stroke="#440154"/>
<polygon points="244.10,311.85 244.10,316.11 240.91,318.23 237.71,316.11 237.71,311.85 240.91,309.73" fill="#45347f" stroke="#45347f"/>
<polygon points="256.87,311.85 256.87,316.11 253.68,318.23 250.49,316.11 250.49,311.85 253.68,309.73" fill="#440154" stroke="#440154"/>
<polygon points="276.03,311.85 276.03,316.11 272.84,318.23 269.65,316.11 269.65,311.85 272.84,309.73" fill="#440154" stroke="#440154"/>
<polygon points="148.29,324.61 148.29,328.87 145.10,330.99 141.91,328.87 141.91,324.61 145.10,322.49" fill="#440154" stroke="#440154"/>
<polygon points="154.68,324.61 154.68,328.87 151.49,330.99 148.29,328.87 148.29,324.61 151.49,322.49" fill="#1e998a" stroke="#1e998a"/>
<polygon points="161.07,324.61 161.07,328.87 157.88,330.99 154.68,328.87 154.68,324.61 157.88,322.49" fill="#8bd546" stroke="#8bd546"/>
<polygon points="167.46,324.61 167.46,328.87 164.26,330.99 161.07,328.87 161.07,324.61 164.26,322.49" fill="#fde724" stroke="#fde724"/>
<polygon points="173.84,324.61 173.84,328.87 170.65,330.99 167.46,328.87 167.46,324.61 170.65,322.49" fill="#fde724" stroke="#fde724"/>
<polygon points="180.23,324.61 180.23,328.87 177.04,330.99 173.84,328.87 173.84,324.61 177.04,322.49" fill="#fde724" stroke="#fde724"/>
<polygon points="186.62,324.61 186.62,328.87 183.42,330.99 180.23,328.87 180.23,324.61 183.42,322.49" fill="#c7e01f" stroke="#c7e01f"/>
<polygon points="193.00,324.61 193.00,328.87 189.81,330.99 186.62,328.87 186.62,324.61 189.81,322.49" fill="#8bd546" stroke="#8bd546"/>
<polygon points="199.39,324.61 199.39,328.87 196.20,330.99 193.00,328.87 193.00,324.61 196.20,322.49" fill="#1e998a" stroke="#1e998a"/>
<polygon points="205.78,324.61 205.78,328.87 202.58,330.99 199.39,328.87 199.39,324.61 202.58,322.49" fill="#2c708e" stroke="#2c708e"/>
<polygon points="212.16,324.61 212.16,328.87 208.97,330.99 205.78,328.87 205.78,324.61 208.97,322.49" fill="#345f8d" stroke="#345f8d"/>
<polygon points="218.55,324.61 218.55,328.87 215.36,330.99 212.16,328.87 212.16,324.61 215.36,322.49" fill="#440154" stroke="#440154"/>
<polygon points="224.94,324.61 224.94,328.87 221.75,330.99 218.55,328.87 218.55,324.61 221.75,322.49" fill="#3c4e8a" stroke="#3c4e8a"/>
<polygon points="237.71,324.61 237.71,328.87 234.52,330.99 231.33,328.87 231.33,324.61 234.52,322.49" fill="#440154" stroke="#440154"/>
<polygon points="276.03,324.61 276.03,328.87 272.84,330.99 269.65,328.87 269.65,324.61 272.84,322.49" fill="#440154" stroke="#440154"/>
<polygon points="148.29,337.37 148.29,341.63 145.10,343.75 141.91,341.63 141.91,337.37 145.10,335.25" fill="#8bd546" stroke="#8bd546"/>
<polygon points="154.68,337.37 154.68,341.63 151.49,343.75 148.29,341.63 148.29,337.37 151.49,335.25" fill="#fde724" stroke="#fde724"/>
<polygon points="161.07,337.37 161.07,341.63 157.88,343.75 154.68,341.63 154.68,337.37 157.88,335.25" fill="#fde724" stroke="#fde724"/>
<polygon points="167.46,337.37 167.46,341.63 164.26,343.75 161.07,341.63 161.07,337.37 164.26,335.25" fill="#fde724" stroke="#fde724"/>
<polygon points="173.84,337.37 173.84,341.63 170.65,343.75 167.46,341.63 167.46,337.37 170.65,335.25" fill="#fde724" stroke="#fde724"/>
<polygon points="180.23,337.37 180.23,341.63 177.04,343.75 173.84,341.63 173.84,337.37 177.04,335.25" fill="#c7e01f" stroke="#c7e01f"/>
<polygon points="186.62,337.37 186.62,341.63 183.42,343.75 180.23,341.63 180.23,337.37 183.42,335.25" fill="#24848d" stroke="#24848d"/>
<polygon points="193.00,337.37 193.00,341.63 189.81,343.75 186.62,341.63 186.62,337.37 189.81,335.25" fill="#2c708e" stroke="#2c708e"/>
<polygon points="199.39,337.37 199.39,341.63 196.20,343.75 193.00,341.63 193.00,337.37 196.20,335.25" fill="#3c4e8a" stroke="#3c4e8a"/>
<polygon points="205.78,337.37 205.78,341.63 202.58,343.75 199.39,341.63 199.39,337.37 202.58,335.25" fill="#440154" stroke="#440154"/>
<polygon points="212.16,337.37 212.16,341.63 208.97,343.75 205.78,341.63 205.78,337.37 208.97,335.25" fill="#2c708e" stroke="#2c708e"/>
<polygon points="218.55,337.37 218.55,341.63 215.36,343.75 212.16,341.63 212.16,337.37 215.36,335.25" fill="#3c4e8a" stroke="#3c4e8a"/>
<polygon points="224.94,337.37 224.94,341.63 221.75,343.75 218.55,341.63 218.55,337.37 221.75,335.25" fill="#3c4e8a" stroke="#3c4e8a"/>
<polygon points="231.33,337.37 231.33,341.63 228.13,343.75 224.94,341.63 224.94,337.37 228.13,335.25" fill="#440154" stroke="#440154"/>
<polygon points="237.71,337.37 237.71,341.63 234.52,343.75 231.33,341.63 231.33,337.37 234.52,335.25" fill="#440154" stroke="#440154"/>
<polygon points="141.91,350.13 141.91,354.39 138.71,356.51 135.52,354.39 135.52,350.13 138.71,348.01" fill="#345f8d" stroke="#345f8d"/>
<polygon points="148.29,350.13 148.29,354.39 145.10,356.51 141.91,354.39 141.91,350.13 145.10,348.01" fill="#fde724" stroke="#fde724"/>
<polygon points="154.68,350.13 154.68,354.39 151.49,356.51 148.29,354.39 148.29,350.13 151.49,348.01" fill="#fde724" stroke="#fde724"/>
<polygon points="161.07,350.13 161.07,354.39 157.88,356.51 154.68,354.39 154.68,350.13 157.88,348.01" fill="#fde724" stroke="#fde724"/>
<polygon points="167.46,350.13 167.46,354.39 164.26,356.51 161.07,354.39 161.07,350.13 164.26,348.01" fill="#8bd546" stroke="#8bd546"/>
<polygon points="173.84,350.13 173.84,354.39 170.65,356.51 167.46,354.39 167.46,350.13 170.65,348.01" fill="#28ae7f" stroke="#28ae7f"/>
<polygon points="180.23,350.13 180.23,354.39 177.04,356.51 173.84,354.39 173.84,350.13 177.04,348.01" fill="#45347f" stroke="#45347f"/>
<polygon points="141.91,362.89 141.91,367.15 138.71,369.27 135.52,367.15 135.52,362.89 138.71,360.77" fill="#8bd546" stroke="#8bd546"/>
</g>
</g>

<!-- 1:1 line -->
<line x1="96" y1="404.4" x2="481" y2="10.9" stroke="#d62728" stroke-width="3.2" stroke-dasharray="12.6 5.6" stroke-dashoffset="4.5" clip-path="url(#ax)"/>

<!-- stats box -->
<rect x="292.3" y="293.3" width="175.1" height="96.2" rx="7.5" ry="7.5" fill="#fff" fill-opacity="0.8" stroke="#4c92c3" stroke-width="2"/>
<text x="301.66" y="313.50" font-size="16.80" textLength="11.25" lengthAdjust="spacingAndGlyphs" font-style="italic">n</text>
<text x="314.95" y="313.50" font-size="16.80" textLength="12.50" lengthAdjust="spacingAndGlyphs">=</text>
<text x="330.63" y="313.50" font-size="16.80" textLength="50.16" lengthAdjust="spacingAndGlyphs">18478</text>
<text x="301.71" y="335.00" font-size="16.80" textLength="33.96" lengthAdjust="spacingAndGlyphs">MBE</text>
<text x="339.39" y="335.00" font-size="16.80" textLength="12.02" lengthAdjust="spacingAndGlyphs">=</text>
<text x="354.60" y="335.00" font-size="16.80" textLength="35.80" lengthAdjust="spacingAndGlyphs">15.8</text>
<text x="395.13" y="335.00" font-size="16.80" textLength="15.33" lengthAdjust="spacingAndGlyphs">W</text>
<text x="415.79" y="335.00" font-size="16.80" textLength="16.41" lengthAdjust="spacingAndGlyphs">m</text>
<text x="432.16" y="328.80" font-size="11.80" textLength="14.90" lengthAdjust="spacingAndGlyphs">−2</text>
<text x="301.54" y="356.80" font-size="16.80" textLength="28.20" lengthAdjust="spacingAndGlyphs">IQR</text>
<text x="334.55" y="356.80" font-size="16.80" textLength="12.50" lengthAdjust="spacingAndGlyphs">=</text>
<text x="352.63" y="356.80" font-size="16.80" textLength="45.05" lengthAdjust="spacingAndGlyphs">111.1</text>
<text x="403.13" y="356.80" font-size="16.80" textLength="15.83" lengthAdjust="spacingAndGlyphs">W</text>
<text x="423.51" y="356.80" font-size="16.80" textLength="16.17" lengthAdjust="spacingAndGlyphs">m</text>
<text x="439.29" y="350.40" font-size="11.80" textLength="16.33" lengthAdjust="spacingAndGlyphs">−2</text>
<text x="301.30" y="374.70" font-size="16.80" textLength="6.09" lengthAdjust="spacingAndGlyphs" font-style="italic">r</text>
<text x="310.45" y="374.70" font-size="16.80" textLength="13.70" lengthAdjust="spacingAndGlyphs">=</text>
<text x="327.30" y="374.70" font-size="16.80" textLength="35.10" lengthAdjust="spacingAndGlyphs">0.96</text>
<!-- spines & ticks -->
<rect x="96" y="10.9" width="385" height="393.5" fill="none" stroke="#000" stroke-width="1.9"/>
<path d="M96 404.4v8M173 404.4v8M250 404.4v8M327 404.4v8M404 404.4v8M481 404.4v8M96 10.9h-8M96 89.6h-8M96 168.3h-8M96 247h-8M96 325.7h-8M96 404.4h-8" stroke="#000" stroke-width="1.9" fill="none"/>

<!-- tick labels -->
<g font-size="16.7" text-anchor="middle">
<text x="96.2" y="432.5" textLength="42.5" lengthAdjust="spacingAndGlyphs">−200</text>
<text x="173" y="432.5">0</text>
<text x="250" y="432.5" textLength="30" lengthAdjust="spacingAndGlyphs">200</text>
<text x="327" y="432.5" textLength="30" lengthAdjust="spacingAndGlyphs">400</text>
<text x="404" y="432.5" textLength="30" lengthAdjust="spacingAndGlyphs">600</text>
<text x="481" y="432.5" textLength="30" lengthAdjust="spacingAndGlyphs">800</text>
</g>
<g font-size="16.7" text-anchor="end">
<text x="80.0" y="17.4" textLength="30" lengthAdjust="spacingAndGlyphs">800</text>
<text x="80.0" y="96.1" textLength="30" lengthAdjust="spacingAndGlyphs">600</text>
<text x="80.0" y="174.8" textLength="30" lengthAdjust="spacingAndGlyphs">400</text>
<text x="80.0" y="253.5" textLength="30" lengthAdjust="spacingAndGlyphs">200</text>
<text x="80.1" y="332.2">0</text>
<text x="80.1" y="410.9" textLength="44" lengthAdjust="spacingAndGlyphs">−200</text>
</g>

<text x="191.07" y="461.40" font-size="19.00" textLength="12.46" lengthAdjust="spacingAndGlyphs" font-style="italic">R</text>
<text x="203.38" y="464.40" font-size="13.30" textLength="21.33" lengthAdjust="spacingAndGlyphs">net</text>
<text x="229.99" y="461.40" font-size="19.00" textLength="72.76" lengthAdjust="spacingAndGlyphs">Cabauw</text>
<text x="309.40" y="461.40" font-size="19.00" textLength="23.97" lengthAdjust="spacingAndGlyphs">[W</text>
<text x="340.12" y="461.40" font-size="19.00" textLength="16.05" lengthAdjust="spacingAndGlyphs">m</text>
<text x="356.40" y="455.30" font-size="13.30" textLength="18.52" lengthAdjust="spacingAndGlyphs">−2</text>
<text x="377.56" y="461.40" font-size="19.00" textLength="5.03" lengthAdjust="spacingAndGlyphs">]</text>
<g transform="translate(21.4 306.1) rotate(-90)">
<text x="-0.53" y="0.00" font-size="19.00" textLength="12.35" lengthAdjust="spacingAndGlyphs" font-style="italic">R</text>
<text x="11.76" y="3.20" font-size="13.30" textLength="21.75" lengthAdjust="spacingAndGlyphs">net</text>
<text x="40.03" y="0.00" font-size="19.00" textLength="73.58" lengthAdjust="spacingAndGlyphs">LSA SAF</text>
<text x="121.00" y="0.00" font-size="19.00" textLength="25.67" lengthAdjust="spacingAndGlyphs">[W</text>
<text x="152.43" y="0.00" font-size="19.00" textLength="17.24" lengthAdjust="spacingAndGlyphs">m</text>
<text x="170.71" y="-6.10" font-size="13.30" textLength="18.19" lengthAdjust="spacingAndGlyphs">−2</text>
<text x="190.61" y="0.00" font-size="19.00" textLength="6.71" lengthAdjust="spacingAndGlyphs">]</text>
</g>
<!-- colorbar -->
<path d="M121.5 478.5H439.2L455.2 487.3L439.2 496H121.5Z" fill="#fde725"/>
<rect x="121.5" y="478.5" width="317.7" height="17.5" fill="url(#vir)"/>
<path d="M121.5 478.5H439.2L455.2 487.3L439.2 496H121.5Z" fill="none" stroke="#000" stroke-width="1.7"/>
<path d="M121.5 496v8M280.35 496v8M439.2 496v8" stroke="#000" stroke-width="1.7"/>
<path d="M169.32 496V500.5M197.29 496V500.5M217.14 496V500.5M232.53 496V500.5M245.11 496V500.5M255.74 496V500.5M264.96 496V500.5M273.08 496V500.5M328.17 496V500.5M356.14 496V500.5M375.99 496V500.5M391.38 496V500.5M403.96 496V500.5M414.59 496V500.5M423.81 496V500.5M431.93 496V500.5" stroke="#000" stroke-width="1.3"/>
<text x="106.98" y="526.20" font-size="16.70" textLength="19.30" lengthAdjust="spacingAndGlyphs">10</text>
<text x="126.97" y="519.80" font-size="11.70" textLength="7.56" lengthAdjust="spacingAndGlyphs">0</text>
<text x="265.92" y="526.20" font-size="16.70" textLength="18.74" lengthAdjust="spacingAndGlyphs">10</text>
<text x="285.88" y="519.80" font-size="11.70" textLength="6.71" lengthAdjust="spacingAndGlyphs">1</text>
<text x="424.47" y="526.20" font-size="16.70" textLength="19.41" lengthAdjust="spacingAndGlyphs">10</text>
<text x="445.25" y="519.80" font-size="11.70" textLength="6.10" lengthAdjust="spacingAndGlyphs">2</text>
<text x="253.18" y="554.40" font-size="19.00" textLength="53.36" lengthAdjust="spacingAndGlyphs">Count</text>
</svg>
</body></html>
